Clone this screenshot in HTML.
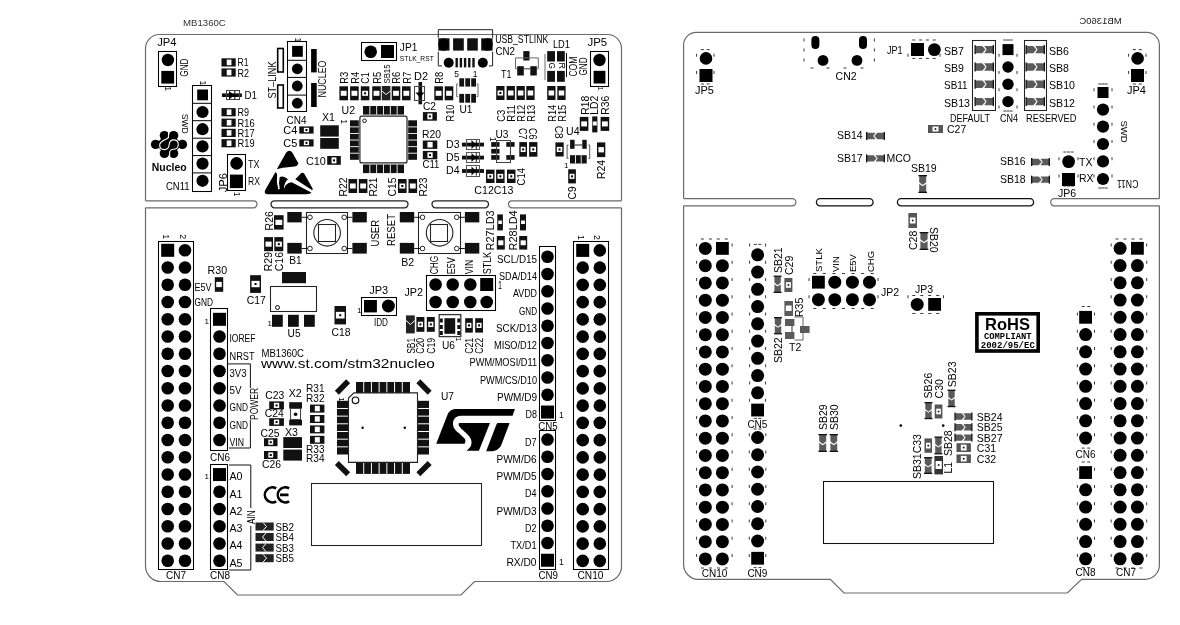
<!DOCTYPE html>
<html><head><meta charset="utf-8"><style>
html,body{margin:0;padding:0;background:#fff;width:1180px;height:625px;overflow:hidden}
svg{display:block;will-change:transform}
text{font-family:"Liberation Sans",sans-serif}
</style></head><body>
<svg width="1180" height="625" viewBox="0 0 1180 625">
<path d="M145.5,200.8 L145.5,48.5 A14,14 0 0 1 159.5,34.5 L607.5,34.5 A14,14 0 0 1 621.5,48.5 L621.5,200.8" fill="none" stroke="#6a6a6a" stroke-width="1.2" />
<path d="M145.5,200.8 L253.5,200.8 A3.5,3.5 0 0 1 253.5,207.8 L145.5,207.8" fill="none" stroke="#6a6a6a" stroke-width="1.2" />
<path d="M274.5,200.8 L404.5,200.8 A3.5,3.5 0 0 1 404.5,207.8 L274.5,207.8 A3.5,3.5 0 0 1 274.5,200.8" fill="none" stroke="#222" stroke-width="1.3" />
<path d="M435.5,200.8 L485,200.8 A3.5,3.5 0 0 1 485,207.8 L435.5,207.8 A3.5,3.5 0 0 1 435.5,200.8" fill="none" stroke="#222" stroke-width="1.3" />
<path d="M621.5,200.8 L512,200.8 A3.5,3.5 0 0 0 512,207.8 L621.5,207.8" fill="none" stroke="#6a6a6a" stroke-width="1.2" />
<path d="M145.5,207.8 L145.5,566 A15.5,15.5 0 0 0 161,581.5 L224,581.5 L237.5,595 L461,595 L474.5,581.5 L606.5,581.5 A15,15 0 0 0 621.5,566.5 L621.5,207.8" fill="none" stroke="#6a6a6a" stroke-width="1.2" />
<text transform="translate(183.1,25.7)" font-size="9.3" text-anchor="start" font-weight="normal" fill="#333" textLength="42.7" lengthAdjust="spacingAndGlyphs">MB1360C</text>
<rect x="158.5" y="241.5" width="35" height="328" fill="none" stroke="#000" stroke-width="1.05" rx="0"/>
<rect x="161.2" y="243.8" width="13" height="13" fill="#000" />
<circle cx="185" cy="250.3" r="6.3" fill="#000"/>
<circle cx="167.7" cy="267.55" r="6.3" fill="#000"/>
<circle cx="185" cy="267.55" r="6.3" fill="#000"/>
<circle cx="167.7" cy="284.8" r="6.3" fill="#000"/>
<circle cx="185" cy="284.8" r="6.3" fill="#000"/>
<circle cx="167.7" cy="302.05" r="6.3" fill="#000"/>
<circle cx="185" cy="302.05" r="6.3" fill="#000"/>
<circle cx="167.7" cy="319.3" r="6.3" fill="#000"/>
<circle cx="185" cy="319.3" r="6.3" fill="#000"/>
<circle cx="167.7" cy="336.55" r="6.3" fill="#000"/>
<circle cx="185" cy="336.55" r="6.3" fill="#000"/>
<circle cx="167.7" cy="353.8" r="6.3" fill="#000"/>
<circle cx="185" cy="353.8" r="6.3" fill="#000"/>
<circle cx="167.7" cy="371.05" r="6.3" fill="#000"/>
<circle cx="185" cy="371.05" r="6.3" fill="#000"/>
<circle cx="167.7" cy="388.3" r="6.3" fill="#000"/>
<circle cx="185" cy="388.3" r="6.3" fill="#000"/>
<circle cx="167.7" cy="405.55" r="6.3" fill="#000"/>
<circle cx="185" cy="405.55" r="6.3" fill="#000"/>
<circle cx="167.7" cy="422.8" r="6.3" fill="#000"/>
<circle cx="185" cy="422.8" r="6.3" fill="#000"/>
<circle cx="167.7" cy="440.05" r="6.3" fill="#000"/>
<circle cx="185" cy="440.05" r="6.3" fill="#000"/>
<circle cx="167.7" cy="457.3" r="6.3" fill="#000"/>
<circle cx="185" cy="457.3" r="6.3" fill="#000"/>
<circle cx="167.7" cy="474.55" r="6.3" fill="#000"/>
<circle cx="185" cy="474.55" r="6.3" fill="#000"/>
<circle cx="167.7" cy="491.8" r="6.3" fill="#000"/>
<circle cx="185" cy="491.8" r="6.3" fill="#000"/>
<circle cx="167.7" cy="509.05" r="6.3" fill="#000"/>
<circle cx="185" cy="509.05" r="6.3" fill="#000"/>
<circle cx="167.7" cy="526.3" r="6.3" fill="#000"/>
<circle cx="185" cy="526.3" r="6.3" fill="#000"/>
<circle cx="167.7" cy="543.55" r="6.3" fill="#000"/>
<circle cx="185" cy="543.55" r="6.3" fill="#000"/>
<circle cx="167.7" cy="560.8" r="6.3" fill="#000"/>
<circle cx="185" cy="560.8" r="6.3" fill="#000"/>
<text transform="translate(166,578.8)" font-size="10" text-anchor="start" font-weight="normal" fill="#000" textLength="20" lengthAdjust="spacingAndGlyphs">CN7</text>
<text transform="translate(163,234.3) rotate(90)" font-size="8.8" text-anchor="start" font-weight="normal" fill="#000">1</text>
<text transform="translate(180,234.3) rotate(90)" font-size="8.8" text-anchor="start" font-weight="normal" fill="#000">2</text>
<rect x="573.5" y="241.5" width="35" height="328" fill="none" stroke="#000" stroke-width="1.05" rx="0"/>
<rect x="576.2" y="243.9" width="13" height="13" fill="#000" />
<circle cx="599.8" cy="250.4" r="6.3" fill="#000"/>
<circle cx="582.7" cy="267.65" r="6.3" fill="#000"/>
<circle cx="599.8" cy="267.65" r="6.3" fill="#000"/>
<circle cx="582.7" cy="284.9" r="6.3" fill="#000"/>
<circle cx="599.8" cy="284.9" r="6.3" fill="#000"/>
<circle cx="582.7" cy="302.15" r="6.3" fill="#000"/>
<circle cx="599.8" cy="302.15" r="6.3" fill="#000"/>
<circle cx="582.7" cy="319.4" r="6.3" fill="#000"/>
<circle cx="599.8" cy="319.4" r="6.3" fill="#000"/>
<circle cx="582.7" cy="336.65" r="6.3" fill="#000"/>
<circle cx="599.8" cy="336.65" r="6.3" fill="#000"/>
<circle cx="582.7" cy="353.9" r="6.3" fill="#000"/>
<circle cx="599.8" cy="353.9" r="6.3" fill="#000"/>
<circle cx="582.7" cy="371.15" r="6.3" fill="#000"/>
<circle cx="599.8" cy="371.15" r="6.3" fill="#000"/>
<circle cx="582.7" cy="388.4" r="6.3" fill="#000"/>
<circle cx="599.8" cy="388.4" r="6.3" fill="#000"/>
<circle cx="582.7" cy="405.65" r="6.3" fill="#000"/>
<circle cx="599.8" cy="405.65" r="6.3" fill="#000"/>
<circle cx="582.7" cy="422.9" r="6.3" fill="#000"/>
<circle cx="599.8" cy="422.9" r="6.3" fill="#000"/>
<circle cx="582.7" cy="440.15" r="6.3" fill="#000"/>
<circle cx="599.8" cy="440.15" r="6.3" fill="#000"/>
<circle cx="582.7" cy="457.4" r="6.3" fill="#000"/>
<circle cx="599.8" cy="457.4" r="6.3" fill="#000"/>
<circle cx="582.7" cy="474.65" r="6.3" fill="#000"/>
<circle cx="599.8" cy="474.65" r="6.3" fill="#000"/>
<circle cx="582.7" cy="491.9" r="6.3" fill="#000"/>
<circle cx="599.8" cy="491.9" r="6.3" fill="#000"/>
<circle cx="582.7" cy="509.15" r="6.3" fill="#000"/>
<circle cx="599.8" cy="509.15" r="6.3" fill="#000"/>
<circle cx="582.7" cy="526.4" r="6.3" fill="#000"/>
<circle cx="599.8" cy="526.4" r="6.3" fill="#000"/>
<circle cx="582.7" cy="543.65" r="6.3" fill="#000"/>
<circle cx="599.8" cy="543.65" r="6.3" fill="#000"/>
<circle cx="582.7" cy="560.9" r="6.3" fill="#000"/>
<circle cx="599.8" cy="560.9" r="6.3" fill="#000"/>
<text transform="translate(577.5,579)" font-size="10" text-anchor="start" font-weight="normal" fill="#000" textLength="26" lengthAdjust="spacingAndGlyphs">CN10</text>
<text transform="translate(577.5,235) rotate(90)" font-size="8.8" text-anchor="start" font-weight="normal" fill="#000">1</text>
<text transform="translate(594.4,235) rotate(90)" font-size="8.8" text-anchor="start" font-weight="normal" fill="#000">2</text>
<rect x="210.5" y="308.5" width="17" height="142" fill="none" stroke="#000" stroke-width="1.05" rx="0"/>
<rect x="213" y="312.8" width="13" height="13" fill="#000" />
<circle cx="219.5" cy="336.55" r="6.3" fill="#000"/>
<circle cx="219.5" cy="353.8" r="6.3" fill="#000"/>
<circle cx="219.5" cy="371.05" r="6.3" fill="#000"/>
<circle cx="219.5" cy="388.3" r="6.3" fill="#000"/>
<circle cx="219.5" cy="405.55" r="6.3" fill="#000"/>
<circle cx="219.5" cy="422.8" r="6.3" fill="#000"/>
<circle cx="219.5" cy="440.05" r="6.3" fill="#000"/>
<text transform="translate(210,460.8)" font-size="10" text-anchor="start" font-weight="normal" fill="#000" textLength="20" lengthAdjust="spacingAndGlyphs">CN6</text>
<text transform="translate(204.5,323.5)" font-size="8" text-anchor="start" font-weight="normal" fill="#000">1</text>
<text transform="translate(229.5,342.35)" font-size="10" text-anchor="start" font-weight="normal" fill="#000" textLength="26" lengthAdjust="spacingAndGlyphs">IOREF</text>
<text transform="translate(229.5,359.6)" font-size="10" text-anchor="start" font-weight="normal" fill="#000" textLength="25" lengthAdjust="spacingAndGlyphs">NRST</text>
<text transform="translate(229.5,376.85)" font-size="10" text-anchor="start" font-weight="normal" fill="#000" textLength="17" lengthAdjust="spacingAndGlyphs">3V3</text>
<text transform="translate(229.5,394.1)" font-size="10" text-anchor="start" font-weight="normal" fill="#000" textLength="12" lengthAdjust="spacingAndGlyphs">5V</text>
<text transform="translate(229.5,411.35)" font-size="10" text-anchor="start" font-weight="normal" fill="#000" textLength="18.5" lengthAdjust="spacingAndGlyphs">GND</text>
<text transform="translate(229.5,428.6)" font-size="10" text-anchor="start" font-weight="normal" fill="#000" textLength="18.5" lengthAdjust="spacingAndGlyphs">GND</text>
<text transform="translate(229.5,445.85)" font-size="10" text-anchor="start" font-weight="normal" fill="#000" textLength="14.5" lengthAdjust="spacingAndGlyphs">VIN</text>
<path d="M228,363.9 L250.4,363.9 L250.4,448 L229,448" fill="none" stroke="#111" stroke-width="1" />
<rect x="248" y="388" width="6" height="32" fill="#fff" />
<text transform="translate(258.3,420) rotate(-90)" font-size="11" text-anchor="start" font-weight="normal" fill="#000" textLength="32.2" lengthAdjust="spacingAndGlyphs">POWER</text>
<rect x="210.5" y="464.5" width="17" height="105" fill="none" stroke="#000" stroke-width="1.05" rx="0"/>
<rect x="213" y="468.05" width="13" height="13" fill="#000" />
<circle cx="219.5" cy="491.8" r="6.3" fill="#000"/>
<circle cx="219.5" cy="509.05" r="6.3" fill="#000"/>
<circle cx="219.5" cy="526.3" r="6.3" fill="#000"/>
<circle cx="219.5" cy="543.55" r="6.3" fill="#000"/>
<circle cx="219.5" cy="560.8" r="6.3" fill="#000"/>
<text transform="translate(210,578.8)" font-size="10" text-anchor="start" font-weight="normal" fill="#000" textLength="20" lengthAdjust="spacingAndGlyphs">CN8</text>
<text transform="translate(204.5,478.5)" font-size="8" text-anchor="start" font-weight="normal" fill="#000">1</text>
<text transform="translate(229.5,480.35)" font-size="10" text-anchor="start" font-weight="normal" fill="#000" textLength="13" lengthAdjust="spacingAndGlyphs">A0</text>
<text transform="translate(229.5,497.6)" font-size="10" text-anchor="start" font-weight="normal" fill="#000" textLength="13" lengthAdjust="spacingAndGlyphs">A1</text>
<text transform="translate(229.5,514.85)" font-size="10" text-anchor="start" font-weight="normal" fill="#000" textLength="13" lengthAdjust="spacingAndGlyphs">A2</text>
<text transform="translate(229.5,532.1)" font-size="10" text-anchor="start" font-weight="normal" fill="#000" textLength="13" lengthAdjust="spacingAndGlyphs">A3</text>
<text transform="translate(229.5,549.35)" font-size="10" text-anchor="start" font-weight="normal" fill="#000" textLength="13" lengthAdjust="spacingAndGlyphs">A4</text>
<text transform="translate(229.5,566.6)" font-size="10" text-anchor="start" font-weight="normal" fill="#000" textLength="13" lengthAdjust="spacingAndGlyphs">A5</text>
<path d="M229,465 L250.8,465 L250.8,570 L229,570" fill="none" stroke="#111" stroke-width="1" />
<rect x="248" y="508" width="6" height="18" fill="#fff" />
<text transform="translate(254.5,524) rotate(-90)" font-size="10.5" text-anchor="start" font-weight="normal" fill="#000" textLength="13.5" lengthAdjust="spacingAndGlyphs">AIN</text>
<text transform="translate(194.5,290.5)" font-size="10" text-anchor="start" font-weight="normal" fill="#000" textLength="17" lengthAdjust="spacingAndGlyphs">E5V</text>
<text transform="translate(194.5,305.6)" font-size="10" text-anchor="start" font-weight="normal" fill="#000" textLength="18.5" lengthAdjust="spacingAndGlyphs">GND</text>
<rect x="539.5" y="246.5" width="16" height="174" fill="none" stroke="#000" stroke-width="1.05" rx="0"/>
<circle cx="547.5" cy="256.8" r="6.3" fill="#000"/>
<text transform="translate(537,262.8)" font-size="10" text-anchor="end" font-weight="normal" fill="#000" textLength="40" lengthAdjust="spacingAndGlyphs">SCL/D15</text>
<circle cx="547.5" cy="274.05" r="6.3" fill="#000"/>
<text transform="translate(537,280.05)" font-size="10" text-anchor="end" font-weight="normal" fill="#000" textLength="38" lengthAdjust="spacingAndGlyphs">SDA/D14</text>
<circle cx="547.5" cy="291.3" r="6.3" fill="#000"/>
<text transform="translate(537,297.3)" font-size="10" text-anchor="end" font-weight="normal" fill="#000" textLength="24" lengthAdjust="spacingAndGlyphs">AVDD</text>
<circle cx="547.5" cy="308.55" r="6.3" fill="#000"/>
<text transform="translate(537,314.55)" font-size="10" text-anchor="end" font-weight="normal" fill="#000" textLength="18" lengthAdjust="spacingAndGlyphs">GND</text>
<circle cx="547.5" cy="325.8" r="6.3" fill="#000"/>
<text transform="translate(537,331.8)" font-size="10" text-anchor="end" font-weight="normal" fill="#000" textLength="41" lengthAdjust="spacingAndGlyphs">SCK/D13</text>
<circle cx="547.5" cy="343.05" r="6.3" fill="#000"/>
<text transform="translate(537,349.05)" font-size="10" text-anchor="end" font-weight="normal" fill="#000" textLength="43" lengthAdjust="spacingAndGlyphs">MISO/D12</text>
<circle cx="547.5" cy="360.3" r="6.3" fill="#000"/>
<text transform="translate(537,366.3)" font-size="10" text-anchor="end" font-weight="normal" fill="#000" textLength="67.4" lengthAdjust="spacingAndGlyphs">PWM/MOSI/D11</text>
<circle cx="547.5" cy="377.55" r="6.3" fill="#000"/>
<text transform="translate(537,383.55)" font-size="10" text-anchor="end" font-weight="normal" fill="#000" textLength="57" lengthAdjust="spacingAndGlyphs">PWM/CS/D10</text>
<circle cx="547.5" cy="394.8" r="6.3" fill="#000"/>
<text transform="translate(537,400.8)" font-size="10" text-anchor="end" font-weight="normal" fill="#000" textLength="40" lengthAdjust="spacingAndGlyphs">PWM/D9</text>
<rect x="541" y="405.55" width="13" height="13" fill="#000" />
<text transform="translate(537,418.05)" font-size="10" text-anchor="end" font-weight="normal" fill="#000" textLength="11.5" lengthAdjust="spacingAndGlyphs">D8</text>
<text transform="translate(559,418)" font-size="8.5" text-anchor="start" font-weight="normal" fill="#000">1</text>
<text transform="translate(538.3,430)" font-size="10" text-anchor="start" font-weight="normal" fill="#000" textLength="19.5" lengthAdjust="spacingAndGlyphs">CN5</text>
<rect x="539.5" y="430.5" width="16" height="139" fill="none" stroke="#000" stroke-width="1.05" rx="0"/>
<circle cx="547.5" cy="439.5" r="6.3" fill="#000"/>
<text transform="translate(536.5,445.5)" font-size="10" text-anchor="end" font-weight="normal" fill="#000" textLength="11.5" lengthAdjust="spacingAndGlyphs">D7</text>
<circle cx="547.5" cy="456.75" r="6.3" fill="#000"/>
<text transform="translate(536.5,462.75)" font-size="10" text-anchor="end" font-weight="normal" fill="#000" textLength="40" lengthAdjust="spacingAndGlyphs">PWM/D6</text>
<circle cx="547.5" cy="474" r="6.3" fill="#000"/>
<text transform="translate(536.5,480)" font-size="10" text-anchor="end" font-weight="normal" fill="#000" textLength="40" lengthAdjust="spacingAndGlyphs">PWM/D5</text>
<circle cx="547.5" cy="491.25" r="6.3" fill="#000"/>
<text transform="translate(536.5,497.25)" font-size="10" text-anchor="end" font-weight="normal" fill="#000" textLength="11.5" lengthAdjust="spacingAndGlyphs">D4</text>
<circle cx="547.5" cy="508.5" r="6.3" fill="#000"/>
<text transform="translate(536.5,514.5)" font-size="10" text-anchor="end" font-weight="normal" fill="#000" textLength="40" lengthAdjust="spacingAndGlyphs">PWM/D3</text>
<circle cx="547.5" cy="525.75" r="6.3" fill="#000"/>
<text transform="translate(536.5,531.75)" font-size="10" text-anchor="end" font-weight="normal" fill="#000" textLength="11.5" lengthAdjust="spacingAndGlyphs">D2</text>
<circle cx="547.5" cy="543" r="6.3" fill="#000"/>
<text transform="translate(536.5,549)" font-size="10" text-anchor="end" font-weight="normal" fill="#000" textLength="26" lengthAdjust="spacingAndGlyphs">TX/D1</text>
<rect x="541" y="553.75" width="13" height="13" fill="#000" />
<text transform="translate(536.5,566.25)" font-size="10" text-anchor="end" font-weight="normal" fill="#000" textLength="30" lengthAdjust="spacingAndGlyphs">RX/D0</text>
<text transform="translate(559,564.5)" font-size="8.5" text-anchor="start" font-weight="normal" fill="#000">1</text>
<text transform="translate(538.5,579)" font-size="10" text-anchor="start" font-weight="normal" fill="#000" textLength="19.5" lengthAdjust="spacingAndGlyphs">CN9</text>
<rect x="426.5" y="275.5" width="69" height="35" fill="none" stroke="#000" stroke-width="1.05" rx="0"/>
<circle cx="435.6" cy="284.5" r="6.3" fill="#000"/>
<circle cx="452.7" cy="284.5" r="6.3" fill="#000"/>
<circle cx="470.3" cy="284.5" r="6.3" fill="#000"/>
<rect x="480.2" y="278" width="13" height="13" fill="#000" />
<circle cx="435.6" cy="302" r="6.3" fill="#000"/>
<circle cx="452.7" cy="302" r="6.3" fill="#000"/>
<circle cx="470.3" cy="302" r="6.3" fill="#000"/>
<circle cx="486.7" cy="302" r="6.3" fill="#000"/>
<text transform="translate(498,288.8)" font-size="11" text-anchor="start" font-weight="normal" fill="#000" textLength="4" lengthAdjust="spacingAndGlyphs">1</text>
<text transform="translate(404.5,295.5)" font-size="10.5" text-anchor="start" font-weight="normal" fill="#000" textLength="18.5" lengthAdjust="spacingAndGlyphs">JP2</text>
<text transform="translate(438,274.3) rotate(-90)" font-size="10" text-anchor="start" font-weight="normal" fill="#000" textLength="18.5" lengthAdjust="spacingAndGlyphs">CHG</text>
<text transform="translate(455,274.3) rotate(-90)" font-size="10" text-anchor="start" font-weight="normal" fill="#000" textLength="17" lengthAdjust="spacingAndGlyphs">E5V</text>
<text transform="translate(472.8,274.3) rotate(-90)" font-size="10" text-anchor="start" font-weight="normal" fill="#000" textLength="14.5" lengthAdjust="spacingAndGlyphs">VIN</text>
<text transform="translate(491,274.3) rotate(-90)" font-size="10" text-anchor="start" font-weight="normal" fill="#000" textLength="22.4" lengthAdjust="spacingAndGlyphs">STLK</text>
<rect x="497.3" y="214.4" width="5.6" height="16" fill="#111" />
<rect x="498.3" y="220.5" width="3.6" height="3.5" fill="#fff" />
<rect x="496.8" y="236" width="8" height="13.6" fill="#111" />
<rect x="498.2" y="240.35" width="5.2" height="4.9" fill="#fff" />
<rect x="520" y="214.4" width="6" height="16" fill="#111" />
<rect x="521" y="220.5" width="4" height="3.5" fill="#fff" />
<rect x="519.2" y="236" width="8" height="13.6" fill="#111" />
<rect x="520.6" y="240.35" width="5.2" height="4.9" fill="#fff" />
<text transform="translate(493.6,250.4) rotate(-90)" font-size="10" text-anchor="start" font-weight="normal" fill="#000" textLength="40" lengthAdjust="spacingAndGlyphs">R27LD3</text>
<text transform="translate(516.8,250.4) rotate(-90)" font-size="10" text-anchor="start" font-weight="normal" fill="#000" textLength="40" lengthAdjust="spacingAndGlyphs">R28LD4</text>
<rect x="158.5" y="51.5" width="18" height="35" fill="none" stroke="#000" stroke-width="1.05" rx="0"/>
<circle cx="167.9" cy="60" r="6.2" fill="#000"/>
<rect x="161.3" y="70.9" width="12.8" height="12.7" fill="#000" />
<text transform="translate(157.2,45.8)" font-size="10" text-anchor="start" font-weight="normal" fill="#000" textLength="19.4" lengthAdjust="spacingAndGlyphs">JP4</text>
<text transform="translate(188.3,76.7) rotate(-90)" font-size="10" text-anchor="start" font-weight="normal" fill="#000" textLength="18.2" lengthAdjust="spacingAndGlyphs">GND</text>
<text transform="translate(164.5,86.3) rotate(90)" font-size="8.5" text-anchor="start" font-weight="normal" fill="#000">1</text>
<rect x="590.5" y="51.5" width="18" height="35" fill="none" stroke="#000" stroke-width="1.05" rx="0"/>
<circle cx="599.5" cy="60" r="6.2" fill="#000"/>
<rect x="593.6" y="70.8" width="11.8" height="12.7" fill="#000" />
<text transform="translate(587.5,46)" font-size="10" text-anchor="start" font-weight="normal" fill="#000" textLength="19.7" lengthAdjust="spacingAndGlyphs">JP5</text>
<text transform="translate(586.5,75.5) rotate(-90)" font-size="10" text-anchor="start" font-weight="normal" fill="#000" textLength="18.2" lengthAdjust="spacingAndGlyphs">GND</text>
<text transform="translate(597.5,86.5) rotate(90)" font-size="7.5" text-anchor="start" font-weight="normal" fill="#000">1</text>
<rect x="192.5" y="85.5" width="19" height="106" fill="none" stroke="#000" stroke-width="1.05" rx="0"/>
<rect x="197.2" y="89.5" width="10.8" height="10.8" fill="#000" />
<circle cx="202.5" cy="112" r="6.1" fill="#000"/>
<circle cx="202.5" cy="129.2" r="6.1" fill="#000"/>
<circle cx="202.5" cy="146.4" r="6.1" fill="#000"/>
<circle cx="202.5" cy="163.6" r="6.1" fill="#000"/>
<circle cx="202.5" cy="180.8" r="6.1" fill="#000"/>
<line x1="192.8" y1="103.3" x2="211.3" y2="103.3" stroke="#000" stroke-width="1"/>
<line x1="192.8" y1="120.7" x2="211.3" y2="120.7" stroke="#000" stroke-width="1"/>
<line x1="192.8" y1="138.2" x2="211.3" y2="138.2" stroke="#000" stroke-width="1"/>
<line x1="192.8" y1="155.6" x2="211.3" y2="155.6" stroke="#000" stroke-width="1"/>
<line x1="192.8" y1="172.9" x2="211.3" y2="172.9" stroke="#000" stroke-width="1"/>
<text transform="translate(166,189.7)" font-size="10" text-anchor="start" font-weight="normal" fill="#000" textLength="23.5" lengthAdjust="spacingAndGlyphs">CN11</text>
<text transform="translate(182,113.8) rotate(90)" font-size="9.5" text-anchor="start" font-weight="normal" fill="#000" textLength="20" lengthAdjust="spacingAndGlyphs">SWD</text>
<text transform="translate(199.8,80.6) rotate(90)" font-size="8.5" text-anchor="start" font-weight="normal" fill="#000">1</text>
<circle cx="164.4" cy="135.6" r="4.7" fill="#000"/>
<circle cx="173.6" cy="135.6" r="4.7" fill="#000"/>
<circle cx="155.6" cy="144.4" r="4.7" fill="#000"/>
<circle cx="182.4" cy="144.4" r="4.7" fill="#000"/>
<circle cx="164.4" cy="153.4" r="4.7" fill="#000"/>
<circle cx="173.6" cy="153.4" r="4.7" fill="#000"/>
<path d="M164.4,135.6 L173.6,135.6 L182.4,144.4 L173.6,153.4 L164.4,153.4 L155.6,144.4 Z" fill="#000" stroke="none" stroke-width="1" />
<path d="M168.7,131 L168.4,137.6 C166.5,139.8 161.5,139.6 159.8,144 C159,147.6 161.5,149.6 164.3,149.6 C167,149.6 168.9,147.6 169.1,145 C169.3,141.6 171.2,139.9 173.6,139.9 C176.3,139.9 178.3,141.8 178.3,144.5 C178.3,147.4 176.1,149.3 173.6,149.3 C171.5,149.3 169.6,150.6 169.6,152.4 L169.6,158" fill="none" stroke="#fff" stroke-width="1.1" />
<text transform="translate(151.8,171.4)" font-size="11.8" text-anchor="start" font-weight="bold" fill="#000" textLength="34.8" lengthAdjust="spacingAndGlyphs">Nucleo</text>
<rect x="227.5" y="154.5" width="18" height="36" fill="none" stroke="#000" stroke-width="1.05" rx="0"/>
<circle cx="236.6" cy="163.4" r="6.3" fill="#000"/>
<rect x="229.9" y="174.6" width="13" height="13.5" fill="#000" />
<text transform="translate(247.9,167.9)" font-size="10" text-anchor="start" font-weight="normal" fill="#000" textLength="11.5" lengthAdjust="spacingAndGlyphs">TX</text>
<text transform="translate(247.9,184.7)" font-size="10" text-anchor="start" font-weight="normal" fill="#000" textLength="12" lengthAdjust="spacingAndGlyphs">RX</text>
<text transform="translate(226.6,192.3) rotate(-90)" font-size="10" text-anchor="start" font-weight="normal" fill="#000" textLength="19.3" lengthAdjust="spacingAndGlyphs">JP6</text>
<text transform="translate(234,191.8) rotate(90)" font-size="8.5" text-anchor="start" font-weight="normal" fill="#000">1</text>
<rect x="221.5" y="58.3" width="14.2" height="8.2" fill="#111" />
<rect x="226.75" y="59.6" width="4.69" height="5.6" fill="#fff" />
<text transform="translate(237.6,66.4)" font-size="10.5" text-anchor="start" font-weight="normal" fill="#000" textLength="11" lengthAdjust="spacingAndGlyphs">R1</text>
<rect x="221.5" y="68.4" width="14.2" height="8.2" fill="#111" />
<rect x="226.75" y="69.7" width="4.69" height="5.6" fill="#fff" />
<text transform="translate(237.6,76.5)" font-size="10.5" text-anchor="start" font-weight="normal" fill="#000" textLength="11.5" lengthAdjust="spacingAndGlyphs">R2</text>
<rect x="221.5" y="108.1" width="14.2" height="8.2" fill="#111" />
<rect x="226.75" y="109.4" width="4.69" height="5.6" fill="#fff" />
<text transform="translate(237.6,116.2)" font-size="10.5" text-anchor="start" font-weight="normal" fill="#000" textLength="11.5" lengthAdjust="spacingAndGlyphs">R9</text>
<rect x="221.5" y="118.6" width="14.2" height="8.2" fill="#111" />
<rect x="226.75" y="119.9" width="4.69" height="5.6" fill="#fff" />
<text transform="translate(237.6,126.7)" font-size="10.5" text-anchor="start" font-weight="normal" fill="#000" textLength="17" lengthAdjust="spacingAndGlyphs">R16</text>
<rect x="221.5" y="128.8" width="14.2" height="8.2" fill="#111" />
<rect x="226.75" y="130.1" width="4.69" height="5.6" fill="#fff" />
<text transform="translate(237.6,136.9)" font-size="10.5" text-anchor="start" font-weight="normal" fill="#000" textLength="17" lengthAdjust="spacingAndGlyphs">R17</text>
<rect x="221.5" y="139.1" width="14.2" height="8.2" fill="#111" />
<rect x="226.75" y="140.4" width="4.69" height="5.6" fill="#fff" />
<text transform="translate(237.6,147.2)" font-size="10.5" text-anchor="start" font-weight="normal" fill="#000" textLength="17" lengthAdjust="spacingAndGlyphs">R19</text>
<rect x="221.9" y="93.4" width="20" height="3.6" fill="#111" />
<rect x="226.5" y="90.5" width="13" height="9" fill="none" stroke="#444" stroke-width="1.05" rx="0"/>
<path d="M229,91 L234.5,95.2 L229,99.4 Z" fill="#000" stroke="none" stroke-width="1" />
<line x1="234.8" y1="91" x2="234.8" y2="99.4" stroke="#000" stroke-width="1"/>
<text transform="translate(244.4,98.8)" font-size="10.5" text-anchor="start" font-weight="normal" fill="#000" textLength="12.5" lengthAdjust="spacingAndGlyphs">D1</text>
<g transform="translate(260,140) scale(0.096)"><path d="M175,305 L270,135 Q305,90 340,135 L400,245 Q392,272 360,276 L240,290 Q200,296 175,305 Z" fill="#000"/><path d="M52,525 L160,335 Q178,338 178,360 Q168,430 190,512 L206,512 Q192,440 205,388 Q225,370 260,388 L292,410 Q252,440 248,512 Q262,450 330,440 L535,548 Q525,566 480,566 L80,566 Q40,560 52,525 Z" fill="#000"/><path d="M368,410 L430,345 Q445,335 460,350 L552,512 L540,522 Z" fill="#000"/></g>
<rect x="287.5" y="41.5" width="19" height="70" fill="none" stroke="#000" stroke-width="1.05" rx="0"/>
<line x1="287.6" y1="60.3" x2="306.7" y2="60.3" stroke="#000" stroke-width="1"/>
<line x1="287.6" y1="77.4" x2="306.7" y2="77.4" stroke="#000" stroke-width="1"/>
<line x1="287.6" y1="95.1" x2="306.7" y2="95.1" stroke="#000" stroke-width="1"/>
<rect x="292.1" y="45.9" width="10.7" height="10.9" fill="#000" />
<circle cx="297.3" cy="68.8" r="5.4" fill="#000"/>
<circle cx="297.3" cy="86" r="5.4" fill="#000"/>
<circle cx="297.3" cy="103.2" r="5.4" fill="#000"/>
<rect x="277.7" y="48.5" width="5.6" height="23.5" fill="none" stroke="#000" stroke-width="1.6" rx="0"/>
<rect x="277.7" y="85" width="5.6" height="23" fill="none" stroke="#000" stroke-width="1.6" rx="0"/>
<rect x="311.1" y="49" width="5.6" height="23.4" fill="#000" />
<rect x="311.1" y="83" width="5.6" height="24" fill="#000" />
<text transform="translate(275.5,98.5) rotate(-90)" font-size="10" text-anchor="start" font-weight="normal" fill="#000" textLength="37" lengthAdjust="spacingAndGlyphs">ST–LINK</text>
<text transform="translate(325.5,97.5) rotate(-90)" font-size="10" text-anchor="start" font-weight="normal" fill="#000" textLength="37" lengthAdjust="spacingAndGlyphs">NUCLEO</text>
<text transform="translate(286.5,123.5)" font-size="10.5" text-anchor="start" font-weight="normal" fill="#000" textLength="20" lengthAdjust="spacingAndGlyphs">CN4</text>
<text transform="translate(294.7,37.6) rotate(90)" font-size="8.5" text-anchor="start" font-weight="normal" fill="#000">1</text>
<rect x="361.5" y="42.5" width="35" height="18" fill="none" stroke="#000" stroke-width="1.05" rx="0"/>
<circle cx="370.7" cy="51.8" r="6.3" fill="#000"/>
<rect x="381" y="45" width="13" height="13" fill="#000" />
<text transform="translate(399.8,51.3)" font-size="10.8" text-anchor="start" font-weight="normal" fill="#000" textLength="17.5" lengthAdjust="spacingAndGlyphs">JP1</text>
<text transform="translate(399.8,60.7)" font-size="7.8" text-anchor="start" font-weight="normal" fill="#000" textLength="34" lengthAdjust="spacingAndGlyphs">STLK_RST</text>
<rect x="339.4" y="86.3" width="8.6" height="14" fill="#111" />
<rect x="340.8" y="90.78" width="5.8" height="5.04" fill="#fff" />
<rect x="350.1" y="86.3" width="8.6" height="14" fill="#111" />
<rect x="351.5" y="90.78" width="5.8" height="5.04" fill="#fff" />
<rect x="360.8" y="86.3" width="8.6" height="14" fill="#111" />
<rect x="362.2" y="90.78" width="5.8" height="5.04" fill="#fff" />
<rect x="364.1" y="92.3" width="2" height="2" fill="#000" />
<rect x="372.2" y="86.3" width="8.6" height="14" fill="#111" />
<rect x="373.6" y="90.78" width="5.8" height="5.04" fill="#fff" />
<rect x="391.7" y="86.3" width="8.6" height="14" fill="#111" />
<rect x="393.1" y="90.78" width="5.8" height="5.04" fill="#fff" />
<rect x="402" y="86.3" width="8.6" height="14" fill="#111" />
<rect x="403.4" y="90.78" width="5.8" height="5.04" fill="#fff" />
<rect x="434.3" y="86.3" width="8.6" height="14" fill="#111" />
<rect x="435.7" y="90.78" width="5.8" height="5.04" fill="#fff" />
<rect x="444.7" y="86.3" width="8.6" height="14" fill="#111" />
<rect x="446.1" y="90.78" width="5.8" height="5.04" fill="#fff" />
<text transform="translate(348,83.7) rotate(-90)" font-size="11" text-anchor="start" font-weight="normal" fill="#000" textLength="12" lengthAdjust="spacingAndGlyphs">R3</text>
<text transform="translate(358.7,83.7) rotate(-90)" font-size="11" text-anchor="start" font-weight="normal" fill="#000" textLength="12" lengthAdjust="spacingAndGlyphs">R4</text>
<text transform="translate(369.4,83.7) rotate(-90)" font-size="11" text-anchor="start" font-weight="normal" fill="#000" textLength="11.5" lengthAdjust="spacingAndGlyphs">C1</text>
<text transform="translate(380.8,83.7) rotate(-90)" font-size="11" text-anchor="start" font-weight="normal" fill="#000" textLength="12" lengthAdjust="spacingAndGlyphs">R5</text>
<text transform="translate(400.3,83.7) rotate(-90)" font-size="11" text-anchor="start" font-weight="normal" fill="#000" textLength="12" lengthAdjust="spacingAndGlyphs">R6</text>
<text transform="translate(410.6,83.7) rotate(-90)" font-size="11" text-anchor="start" font-weight="normal" fill="#000" textLength="12" lengthAdjust="spacingAndGlyphs">R7</text>
<text transform="translate(443,83.7) rotate(-90)" font-size="11" text-anchor="start" font-weight="normal" fill="#000" textLength="12" lengthAdjust="spacingAndGlyphs">R8</text>
<text transform="translate(453.5,121.5) rotate(-90)" font-size="11" text-anchor="start" font-weight="normal" fill="#000" textLength="17" lengthAdjust="spacingAndGlyphs">R10</text>
<rect x="381.8" y="86" width="8.6" height="14.3" fill="#222" />
<path d="M381.8,91 L386.1,94.5 L390.4,91" fill="none" stroke="#fff" stroke-width="1" />
<text transform="translate(389.8,83.5) rotate(-90)" font-size="8.5" text-anchor="start" font-weight="normal" fill="#000" textLength="19" lengthAdjust="spacingAndGlyphs">SB15</text>
<rect x="418.5" y="82" width="3.6" height="22.3" fill="#111" />
<rect x="414.5" y="86.5" width="10" height="14" fill="none" stroke="#444" stroke-width="1.05" rx="0"/>
<path d="M415.5,92.5 L424.5,92.5 L420,97.5 Z" fill="#000" stroke="none" stroke-width="1" />
<text transform="translate(414,80)" font-size="11.5" text-anchor="start" font-weight="normal" fill="#000" textLength="14" lengthAdjust="spacingAndGlyphs">D2</text>
<rect x="422.9" y="112.1" width="14" height="8.6" fill="#111" />
<rect x="427.38" y="113.5" width="5.04" height="5.8" fill="#fff" />
<rect x="428.9" y="115.4" width="2" height="2" fill="#000" />
<text transform="translate(423,110)" font-size="11" text-anchor="start" font-weight="normal" fill="#000" textLength="13" lengthAdjust="spacingAndGlyphs">C2</text>
<path d="M438.3,37.8 L438.3,29.7 L492.6,29.7 L492.6,37.8" fill="none" stroke="#222" stroke-width="1" />
<path d="M442,65.9 L438.3,65.9 L438.3,51.8" fill="none" stroke="#222" stroke-width="1" />
<path d="M488.9,65.9 L492.6,65.9 L492.6,51.8" fill="none" stroke="#222" stroke-width="1" />
<rect x="438.3" y="38.3" width="11.2" height="12.3" fill="#111" />
<rect x="453.1" y="38.3" width="10.7" height="12.3" fill="#111" />
<rect x="467.2" y="38.3" width="10.6" height="12.3" fill="#111" />
<rect x="481.2" y="38.3" width="11.4" height="12.3" fill="#111" />
<ellipse cx="443.5" cy="44.5" rx="5.2" ry="6.3" fill="#000"/>
<ellipse cx="487.4" cy="44.5" rx="5.2" ry="6.3" fill="#000"/>
<circle cx="448.7" cy="62.7" r="5" fill="#000"/>
<circle cx="482.8" cy="62.7" r="5" fill="#000"/>
<rect x="455.5" y="58" width="2.4" height="9.4" fill="#111" />
<rect x="459.7" y="58" width="2.4" height="9.4" fill="#111" />
<rect x="463.9" y="58" width="2.4" height="9.4" fill="#111" />
<rect x="468.1" y="58" width="2.4" height="9.4" fill="#111" />
<rect x="472.3" y="58" width="2.4" height="9.4" fill="#111" />
<text transform="translate(456.5,77)" font-size="8.5" text-anchor="middle" font-weight="normal" fill="#000">5</text>
<text transform="translate(475,77)" font-size="8.5" text-anchor="middle" font-weight="normal" fill="#000">1</text>
<text transform="translate(495.2,43.3)" font-size="10" text-anchor="start" font-weight="normal" fill="#000" textLength="53" lengthAdjust="spacingAndGlyphs">USB_STLINK</text>
<text transform="translate(495.5,54.8)" font-size="10.5" text-anchor="start" font-weight="normal" fill="#000" textLength="19.5" lengthAdjust="spacingAndGlyphs">CN2</text>
<rect x="459.3" y="78.3" width="4.8" height="8.3" fill="#111" />
<rect x="459.3" y="93.9" width="4.8" height="8.8" fill="#111" />
<rect x="465.3" y="78.3" width="4.8" height="8.3" fill="#111" />
<rect x="465.3" y="93.9" width="4.8" height="8.8" fill="#111" />
<rect x="471.2" y="78.3" width="4.8" height="8.3" fill="#111" />
<rect x="471.2" y="93.9" width="4.8" height="8.8" fill="#111" />
<path d="M458,84 L456.7,84 L456.7,96.5 L458,96.5" fill="none" stroke="#555" stroke-width="0.9" />
<path d="M476.7,84 L478,84 L478,96.5 L476.7,96.5" fill="none" stroke="#555" stroke-width="0.9" />
<text transform="translate(459.5,112.5)" font-size="11" text-anchor="start" font-weight="normal" fill="#000" textLength="13" lengthAdjust="spacingAndGlyphs">U1</text>
<rect x="523.3" y="51.1" width="6.2" height="9.4" fill="#111" />
<rect x="517.2" y="66.2" width="6.6" height="9.3" fill="#111" />
<rect x="530.3" y="66.2" width="6.5" height="9.3" fill="#111" />
<path d="M517,68.8 L515.5,68.8 L515.5,57.9 L538.3,57.9 L538.3,68.8 L537,68.8" fill="none" stroke="#666" stroke-width="1" />
<line x1="524" y1="68.8" x2="530" y2="68.8" stroke="#000" stroke-width="0.8"/>
<text transform="translate(501,77.6)" font-size="10.5" text-anchor="start" font-weight="normal" fill="#000" textLength="10.5" lengthAdjust="spacingAndGlyphs">T1</text>
<rect x="547.2" y="51.1" width="7.8" height="10.4" fill="#111" />
<rect x="547.2" y="70.9" width="7.8" height="10.9" fill="#111" />
<rect x="557" y="51.1" width="7.8" height="10.4" fill="#111" />
<rect x="557" y="70.9" width="7.8" height="10.9" fill="#111" />
<text transform="translate(552.9,48)" font-size="10.5" text-anchor="start" font-weight="normal" fill="#000" textLength="17" lengthAdjust="spacingAndGlyphs">LD1</text>
<text transform="translate(549.3,62.6) rotate(90)" font-size="8.5" text-anchor="start" font-weight="normal" fill="#000" textLength="6.5" lengthAdjust="spacingAndGlyphs">G</text>
<text transform="translate(559,62.6) rotate(90)" font-size="8.5" text-anchor="start" font-weight="normal" fill="#000" textLength="6.5" lengthAdjust="spacingAndGlyphs">R</text>
<line x1="545" y1="54" x2="545" y2="80" stroke="#777" stroke-width="1.1"/>
<line x1="566.5" y1="53" x2="566.5" y2="77" stroke="#000" stroke-width="1"/>
<text transform="translate(576.5,76.6) rotate(-90)" font-size="10" text-anchor="start" font-weight="normal" fill="#000" textLength="20" lengthAdjust="spacingAndGlyphs">COM</text>
<rect x="496.2" y="86" width="8.3" height="14" fill="#111" />
<rect x="497.6" y="90.48" width="5.5" height="5.04" fill="#fff" />
<rect x="499.35" y="92" width="2" height="2" fill="#000" />
<rect x="506.6" y="86" width="8.3" height="14" fill="#111" />
<rect x="508" y="90.48" width="5.5" height="5.04" fill="#fff" />
<rect x="516.5" y="86" width="8.3" height="14" fill="#111" />
<rect x="517.9" y="90.48" width="5.5" height="5.04" fill="#fff" />
<rect x="526.3" y="86" width="8.3" height="14" fill="#111" />
<rect x="527.7" y="90.48" width="5.5" height="5.04" fill="#fff" />
<rect x="547.2" y="86" width="8.3" height="14" fill="#111" />
<rect x="548.6" y="90.48" width="5.5" height="5.04" fill="#fff" />
<rect x="557.3" y="86" width="8.3" height="14" fill="#111" />
<rect x="558.7" y="90.48" width="5.5" height="5.04" fill="#fff" />
<text transform="translate(504.5,121.8) rotate(-90)" font-size="11" text-anchor="start" font-weight="normal" fill="#000" textLength="12" lengthAdjust="spacingAndGlyphs">C3</text>
<text transform="translate(514.9,121.8) rotate(-90)" font-size="11" text-anchor="start" font-weight="normal" fill="#000" textLength="17" lengthAdjust="spacingAndGlyphs">R11</text>
<text transform="translate(524.8,121.8) rotate(-90)" font-size="11" text-anchor="start" font-weight="normal" fill="#000" textLength="17" lengthAdjust="spacingAndGlyphs">R12</text>
<text transform="translate(534.6,121.8) rotate(-90)" font-size="11" text-anchor="start" font-weight="normal" fill="#000" textLength="17" lengthAdjust="spacingAndGlyphs">R13</text>
<text transform="translate(555.5,121.8) rotate(-90)" font-size="11" text-anchor="start" font-weight="normal" fill="#000" textLength="17" lengthAdjust="spacingAndGlyphs">R14</text>
<text transform="translate(565.6,121.8) rotate(-90)" font-size="11" text-anchor="start" font-weight="normal" fill="#000" textLength="17" lengthAdjust="spacingAndGlyphs">R15</text>
<rect x="579.8" y="116.9" width="8.6" height="14" fill="#111" />
<rect x="581.2" y="121.38" width="5.8" height="5.04" fill="#fff" />
<rect x="600.6" y="116.9" width="8.6" height="14" fill="#111" />
<rect x="602" y="121.38" width="5.8" height="5.04" fill="#fff" />
<rect x="592.2" y="116.4" width="5.2" height="16" fill="#111" />
<rect x="592.8" y="121.5" width="4" height="4" fill="#fff" />
<text transform="translate(588.5,114.8) rotate(-90)" font-size="11" text-anchor="start" font-weight="normal" fill="#000" textLength="19" lengthAdjust="spacingAndGlyphs">R18</text>
<text transform="translate(597.5,114.8) rotate(-90)" font-size="11" text-anchor="start" font-weight="normal" fill="#000" textLength="19" lengthAdjust="spacingAndGlyphs">LD2</text>
<text transform="translate(609.3,114.8) rotate(-90)" font-size="11" text-anchor="start" font-weight="normal" fill="#000" textLength="19" lengthAdjust="spacingAndGlyphs">R36</text>
<rect x="350" y="120.3" width="8.8" height="39.5" fill="#111" />
<rect x="408.2" y="120.3" width="8.8" height="39.5" fill="#111" />
<rect x="363" y="106" width="41" height="8.6" fill="#111" />
<rect x="363" y="164.5" width="41" height="8.6" fill="#111" />
<line x1="350" y1="126.88" x2="358.8" y2="126.88" stroke="#fff" stroke-width="0.9"/>
<line x1="408.2" y1="126.88" x2="417" y2="126.88" stroke="#fff" stroke-width="0.9"/>
<line x1="369.83" y1="106" x2="369.83" y2="114.6" stroke="#fff" stroke-width="0.9"/>
<line x1="369.83" y1="164.5" x2="369.83" y2="173.1" stroke="#fff" stroke-width="0.9"/>
<line x1="350" y1="133.47" x2="358.8" y2="133.47" stroke="#fff" stroke-width="0.9"/>
<line x1="408.2" y1="133.47" x2="417" y2="133.47" stroke="#fff" stroke-width="0.9"/>
<line x1="376.67" y1="106" x2="376.67" y2="114.6" stroke="#fff" stroke-width="0.9"/>
<line x1="376.67" y1="164.5" x2="376.67" y2="173.1" stroke="#fff" stroke-width="0.9"/>
<line x1="350" y1="140.05" x2="358.8" y2="140.05" stroke="#fff" stroke-width="0.9"/>
<line x1="408.2" y1="140.05" x2="417" y2="140.05" stroke="#fff" stroke-width="0.9"/>
<line x1="383.5" y1="106" x2="383.5" y2="114.6" stroke="#fff" stroke-width="0.9"/>
<line x1="383.5" y1="164.5" x2="383.5" y2="173.1" stroke="#fff" stroke-width="0.9"/>
<line x1="350" y1="146.63" x2="358.8" y2="146.63" stroke="#fff" stroke-width="0.9"/>
<line x1="408.2" y1="146.63" x2="417" y2="146.63" stroke="#fff" stroke-width="0.9"/>
<line x1="390.33" y1="106" x2="390.33" y2="114.6" stroke="#fff" stroke-width="0.9"/>
<line x1="390.33" y1="164.5" x2="390.33" y2="173.1" stroke="#fff" stroke-width="0.9"/>
<line x1="350" y1="153.22" x2="358.8" y2="153.22" stroke="#fff" stroke-width="0.9"/>
<line x1="408.2" y1="153.22" x2="417" y2="153.22" stroke="#fff" stroke-width="0.9"/>
<line x1="397.17" y1="106" x2="397.17" y2="114.6" stroke="#fff" stroke-width="0.9"/>
<line x1="397.17" y1="164.5" x2="397.17" y2="173.1" stroke="#fff" stroke-width="0.9"/>
<rect x="359.9" y="116.1" width="47.1" height="46.8" rx="2" fill="#fff" stroke="#222" stroke-width="1.2"/>
<circle cx="364.5" cy="120.8" r="1.8" fill="none" stroke="#000" stroke-width="0.9"/>
<text transform="translate(341.5,113.5)" font-size="11.5" text-anchor="start" font-weight="normal" fill="#000" textLength="13.5" lengthAdjust="spacingAndGlyphs">U2</text>
<text transform="translate(341.2,119.3) rotate(90)" font-size="8.5" text-anchor="start" font-weight="normal" fill="#000">1</text>
<rect x="320.2" y="125.3" width="18.6" height="11.3" fill="#111" />
<rect x="320.2" y="138" width="18.6" height="10.8" fill="#111" />
<text transform="translate(322,121)" font-size="11.5" text-anchor="start" font-weight="normal" fill="#000" textLength="13" lengthAdjust="spacingAndGlyphs">X1</text>
<rect x="299.3" y="126.4" width="14.3" height="7.2" fill="#111" />
<rect x="303.88" y="127.8" width="5.15" height="4.4" fill="#fff" />
<rect x="305.45" y="129" width="2" height="2" fill="#000" />
<text transform="translate(283.3,133.5)" font-size="11" text-anchor="start" font-weight="normal" fill="#000" textLength="14" lengthAdjust="spacingAndGlyphs">C4</text>
<rect x="299.3" y="139.3" width="14.3" height="7.2" fill="#111" />
<rect x="303.88" y="140.7" width="5.15" height="4.4" fill="#fff" />
<rect x="305.45" y="141.9" width="2" height="2" fill="#000" />
<text transform="translate(283.3,146.8)" font-size="11" text-anchor="start" font-weight="normal" fill="#000" textLength="14" lengthAdjust="spacingAndGlyphs">C5</text>
<rect x="327.2" y="156" width="13.6" height="8.8" fill="#111" />
<rect x="331.55" y="157.4" width="4.9" height="6" fill="#fff" />
<rect x="333" y="159.4" width="2" height="2" fill="#000" />
<text transform="translate(305.9,164.5)" font-size="11" text-anchor="start" font-weight="normal" fill="#000" textLength="20" lengthAdjust="spacingAndGlyphs">C10</text>
<rect x="348.5" y="179" width="8.6" height="14" fill="#111" />
<rect x="349.9" y="183.48" width="5.8" height="5.04" fill="#fff" />
<rect x="358.8" y="179" width="8.6" height="14" fill="#111" />
<rect x="360.2" y="183.48" width="5.8" height="5.04" fill="#fff" />
<rect x="398" y="179" width="8.6" height="14" fill="#111" />
<rect x="399.4" y="183.48" width="5.8" height="5.04" fill="#fff" />
<rect x="401.3" y="185" width="2" height="2" fill="#000" />
<rect x="408.5" y="179" width="8.6" height="14" fill="#111" />
<rect x="409.9" y="183.48" width="5.8" height="5.04" fill="#fff" />
<text transform="translate(346.5,196.5) rotate(-90)" font-size="11" text-anchor="start" font-weight="normal" fill="#000" textLength="19" lengthAdjust="spacingAndGlyphs">R22</text>
<text transform="translate(376.5,196.5) rotate(-90)" font-size="11" text-anchor="start" font-weight="normal" fill="#000" textLength="19" lengthAdjust="spacingAndGlyphs">R21</text>
<text transform="translate(395.5,196.5) rotate(-90)" font-size="11" text-anchor="start" font-weight="normal" fill="#000" textLength="19" lengthAdjust="spacingAndGlyphs">C15</text>
<text transform="translate(426.5,196.5) rotate(-90)" font-size="11" text-anchor="start" font-weight="normal" fill="#000" textLength="19" lengthAdjust="spacingAndGlyphs">R23</text>
<rect x="422.8" y="140.5" width="14.5" height="8.4" fill="#111" />
<rect x="427.44" y="141.9" width="5.22" height="5.6" fill="#fff" />
<rect x="422.8" y="150.9" width="14.5" height="8.4" fill="#111" />
<rect x="427.44" y="152.3" width="5.22" height="5.6" fill="#fff" />
<rect x="429.05" y="154.1" width="2" height="2" fill="#000" />
<text transform="translate(422,137.5)" font-size="11" text-anchor="start" font-weight="normal" fill="#000" textLength="19" lengthAdjust="spacingAndGlyphs">R20</text>
<text transform="translate(422.5,168)" font-size="11" text-anchor="start" font-weight="normal" fill="#000" textLength="17" lengthAdjust="spacingAndGlyphs">C11</text>
<rect x="462" y="142.7" width="22" height="3.8" fill="#111" />
<rect x="466.5" y="139.5" width="13" height="10" fill="none" stroke="#555" stroke-width="1.05" rx="0"/>
<path d="M471.5,140.1 L476,144.6 L471.5,149.1 Z" fill="#000" stroke="none" stroke-width="1" />
<line x1="476.3" y1="140.1" x2="476.3" y2="149.1" stroke="#000" stroke-width="0.9"/>
<text transform="translate(446,148)" font-size="11" text-anchor="start" font-weight="normal" fill="#000" textLength="13.5" lengthAdjust="spacingAndGlyphs">D3</text>
<rect x="462" y="155.7" width="22" height="3.8" fill="#111" />
<rect x="466.5" y="152.5" width="13" height="10" fill="none" stroke="#555" stroke-width="1.05" rx="0"/>
<path d="M471.5,153.1 L476,157.6 L471.5,162.1 Z" fill="#000" stroke="none" stroke-width="1" />
<line x1="476.3" y1="153.1" x2="476.3" y2="162.1" stroke="#000" stroke-width="0.9"/>
<text transform="translate(446,161)" font-size="11" text-anchor="start" font-weight="normal" fill="#000" textLength="13.5" lengthAdjust="spacingAndGlyphs">D5</text>
<rect x="462" y="169.1" width="22" height="3.8" fill="#111" />
<rect x="466.5" y="165.5" width="13" height="11" fill="none" stroke="#555" stroke-width="1.05" rx="0"/>
<path d="M471.5,166.5 L476,171 L471.5,175.5 Z" fill="#000" stroke="none" stroke-width="1" />
<line x1="476.3" y1="166.5" x2="476.3" y2="175.5" stroke="#000" stroke-width="0.9"/>
<text transform="translate(446,174.4)" font-size="11" text-anchor="start" font-weight="normal" fill="#000" textLength="13.5" lengthAdjust="spacingAndGlyphs">D4</text>
<rect x="491.2" y="142.1" width="8.3" height="4.7" fill="#111" />
<rect x="491.2" y="148.9" width="8.3" height="4.7" fill="#111" />
<rect x="491.2" y="155.1" width="8.3" height="4.7" fill="#111" />
<rect x="506.3" y="142.1" width="8.3" height="4.7" fill="#111" />
<rect x="506.3" y="155.1" width="8.3" height="4.7" fill="#111" />
<rect x="496.5" y="140.5" width="14" height="22" fill="none" stroke="#444" stroke-width="1.05" rx="0"/>
<text transform="translate(495.5,137.5)" font-size="11" text-anchor="start" font-weight="normal" fill="#000" textLength="13" lengthAdjust="spacingAndGlyphs">U3</text>
<text transform="translate(489.6,136.8) rotate(90)" font-size="8.5" text-anchor="start" font-weight="normal" fill="#000">1</text>
<rect x="519.3" y="142.1" width="7.7" height="14.6" fill="#111" />
<rect x="520.7" y="146.77" width="4.9" height="5.26" fill="#fff" />
<rect x="522.15" y="148.4" width="2" height="2" fill="#000" />
<rect x="529.1" y="142.1" width="8.3" height="14.6" fill="#111" />
<rect x="530.5" y="146.77" width="5.5" height="5.26" fill="#fff" />
<rect x="532.25" y="148.4" width="2" height="2" fill="#000" />
<text transform="translate(518.7,128) rotate(90)" font-size="11" text-anchor="start" font-weight="normal" fill="#000" textLength="11.5" lengthAdjust="spacingAndGlyphs">C7</text>
<text transform="translate(529.1,128) rotate(90)" font-size="11" text-anchor="start" font-weight="normal" fill="#000" textLength="11.5" lengthAdjust="spacingAndGlyphs">C6</text>
<rect x="486" y="169.6" width="8.5" height="13.4" fill="#111" />
<rect x="487.4" y="173.89" width="5.7" height="4.82" fill="#fff" />
<rect x="489.25" y="175.3" width="2" height="2" fill="#000" />
<rect x="496.1" y="169.6" width="8.5" height="13.4" fill="#111" />
<rect x="497.5" y="173.89" width="5.7" height="4.82" fill="#fff" />
<rect x="499.35" y="175.3" width="2" height="2" fill="#000" />
<rect x="507" y="169.6" width="8.5" height="13.4" fill="#111" />
<rect x="508.4" y="173.89" width="5.7" height="4.82" fill="#fff" />
<rect x="510.25" y="175.3" width="2" height="2" fill="#000" />
<text transform="translate(474.3,194)" font-size="11" text-anchor="start" font-weight="normal" fill="#000" textLength="39" lengthAdjust="spacingAndGlyphs">C12C13</text>
<text transform="translate(525,185.4) rotate(-90)" font-size="11" text-anchor="start" font-weight="normal" fill="#000" textLength="17.4" lengthAdjust="spacingAndGlyphs">C14</text>
<rect x="555.4" y="142.4" width="8.3" height="14.1" fill="#111" />
<rect x="556.8" y="146.91" width="5.5" height="5.08" fill="#fff" />
<rect x="558.55" y="148.45" width="2" height="2" fill="#000" />
<text transform="translate(554.7,125.8) rotate(90)" font-size="11" text-anchor="start" font-weight="normal" fill="#000" textLength="12.8" lengthAdjust="spacingAndGlyphs">C8</text>
<rect x="570.1" y="139.8" width="4.5" height="9" fill="#111" />
<rect x="582.3" y="139.8" width="4.4" height="9" fill="#111" />
<rect x="570" y="155.2" width="16.7" height="8.3" fill="#111" />
<line x1="575.5" y1="155.2" x2="575.5" y2="163.5" stroke="#fff" stroke-width="0.9"/>
<line x1="581.2" y1="155.2" x2="581.2" y2="163.5" stroke="#fff" stroke-width="0.9"/>
<path d="M568.5,145 L567.1,145 L567.1,158.4 L568.5,158.4 M588.3,145 L589.7,145 L589.7,158.4 L588.3,158.4" fill="none" stroke="#444" stroke-width="0.9" />
<line x1="574.6" y1="145" x2="582.3" y2="145" stroke="#000" stroke-width="0.9"/>
<text transform="translate(566,134.5)" font-size="11" text-anchor="start" font-weight="normal" fill="#000" textLength="13.5" lengthAdjust="spacingAndGlyphs">U4</text>
<text transform="translate(564,167.5)" font-size="8" text-anchor="start" font-weight="normal" fill="#000">1</text>
<rect x="597" y="142.4" width="8.3" height="14.7" fill="#111" />
<rect x="598.4" y="147.1" width="5.5" height="5.29" fill="#fff" />
<text transform="translate(605.3,178.9) rotate(-90)" font-size="11" text-anchor="start" font-weight="normal" fill="#000" textLength="19" lengthAdjust="spacingAndGlyphs">R24</text>
<rect x="568.2" y="169.3" width="7.7" height="14.1" fill="#111" />
<rect x="569.6" y="173.81" width="4.9" height="5.08" fill="#fff" />
<rect x="571.05" y="175.35" width="2" height="2" fill="#000" />
<text transform="translate(576,199.4) rotate(-90)" font-size="11" text-anchor="start" font-weight="normal" fill="#000" textLength="13" lengthAdjust="spacingAndGlyphs">C9</text>
<rect x="306.5" y="212.5" width="41" height="41" fill="none" stroke="#222" stroke-width="1.05" rx="0"/>
<circle cx="327.1" cy="232.8" r="13.3" fill="none" stroke="#222" stroke-width="1.1"/>
<rect x="318.5" y="224.5" width="17" height="17" fill="none" stroke="#222" stroke-width="1.05" rx="0"/>
<circle cx="310" cy="217.3" r="2.3" fill="none" stroke="#222" stroke-width="1"/>
<circle cx="310" cy="248.5" r="2.3" fill="none" stroke="#222" stroke-width="1"/>
<circle cx="344.2" cy="217.3" r="2.3" fill="none" stroke="#222" stroke-width="1"/>
<circle cx="344.2" cy="248.5" r="2.3" fill="none" stroke="#222" stroke-width="1"/>
<rect x="287.3" y="212" width="14.4" height="10.4" fill="#111" />
<rect x="287.3" y="242.9" width="14.4" height="10.7" fill="#111" />
<rect x="352.4" y="212" width="14.4" height="10.4" fill="#111" />
<rect x="352.4" y="242.9" width="14.4" height="10.7" fill="#111" />
<line x1="301.7" y1="217.3" x2="307.7" y2="217.3" stroke="#000" stroke-width="0.9"/>
<line x1="346.5" y1="217.3" x2="352.4" y2="217.3" stroke="#000" stroke-width="0.9"/>
<line x1="301.7" y1="248.5" x2="307.7" y2="248.5" stroke="#000" stroke-width="0.9"/>
<line x1="346.5" y1="248.5" x2="352.4" y2="248.5" stroke="#000" stroke-width="0.9"/>
<rect x="418.5" y="212.5" width="42" height="41" fill="none" stroke="#222" stroke-width="1.05" rx="0"/>
<circle cx="439.6" cy="232.8" r="13.3" fill="none" stroke="#222" stroke-width="1.1"/>
<rect x="430.5" y="224.5" width="17" height="17" fill="none" stroke="#222" stroke-width="1.05" rx="0"/>
<circle cx="422.5" cy="217.3" r="2.3" fill="none" stroke="#222" stroke-width="1"/>
<circle cx="422.5" cy="248.5" r="2.3" fill="none" stroke="#222" stroke-width="1"/>
<circle cx="456.7" cy="217.3" r="2.3" fill="none" stroke="#222" stroke-width="1"/>
<circle cx="456.7" cy="248.5" r="2.3" fill="none" stroke="#222" stroke-width="1"/>
<rect x="399.8" y="212" width="14.4" height="10.4" fill="#111" />
<rect x="399.8" y="242.9" width="14.4" height="10.7" fill="#111" />
<rect x="464.9" y="212" width="14.4" height="10.4" fill="#111" />
<rect x="464.9" y="242.9" width="14.4" height="10.7" fill="#111" />
<line x1="414.2" y1="217.3" x2="420.2" y2="217.3" stroke="#000" stroke-width="0.9"/>
<line x1="459" y1="217.3" x2="464.9" y2="217.3" stroke="#000" stroke-width="0.9"/>
<line x1="414.2" y1="248.5" x2="420.2" y2="248.5" stroke="#000" stroke-width="0.9"/>
<line x1="459" y1="248.5" x2="464.9" y2="248.5" stroke="#000" stroke-width="0.9"/>
<text transform="translate(289.2,263.7)" font-size="10.5" text-anchor="start" font-weight="normal" fill="#000" textLength="12.5" lengthAdjust="spacingAndGlyphs">B1</text>
<text transform="translate(401.2,266.4)" font-size="10.5" text-anchor="start" font-weight="normal" fill="#000" textLength="13" lengthAdjust="spacingAndGlyphs">B2</text>
<text transform="translate(379,246.4) rotate(-90)" font-size="10.5" text-anchor="start" font-weight="normal" fill="#000" textLength="26.4" lengthAdjust="spacingAndGlyphs">USER</text>
<text transform="translate(395,246) rotate(-90)" font-size="10.5" text-anchor="start" font-weight="normal" fill="#000" textLength="32" lengthAdjust="spacingAndGlyphs">RESET</text>
<rect x="274" y="215.2" width="9.6" height="14.4" fill="#111" />
<rect x="275.4" y="219.81" width="6.8" height="5.18" fill="#fff" />
<text transform="translate(273.2,230.4) rotate(-90)" font-size="10.5" text-anchor="start" font-weight="normal" fill="#000" textLength="19.2" lengthAdjust="spacingAndGlyphs">R26</text>
<rect x="264.1" y="237.1" width="8.9" height="14.1" fill="#111" />
<rect x="265.5" y="241.61" width="6.1" height="5.08" fill="#fff" />
<rect x="274.3" y="237.1" width="9" height="14.1" fill="#111" />
<rect x="275.7" y="241.61" width="6.2" height="5.08" fill="#fff" />
<rect x="277.8" y="243.15" width="2" height="2" fill="#000" />
<text transform="translate(272.4,271.2) rotate(-90)" font-size="10.5" text-anchor="start" font-weight="normal" fill="#000" textLength="19.2" lengthAdjust="spacingAndGlyphs">R29</text>
<text transform="translate(282.8,271.2) rotate(-90)" font-size="10.5" text-anchor="start" font-weight="normal" fill="#000" textLength="19.2" lengthAdjust="spacingAndGlyphs">C16</text>
<rect x="214.8" y="277.2" width="8.4" height="14.6" fill="#111" />
<rect x="216.2" y="281.87" width="5.6" height="5.26" fill="#fff" />
<text transform="translate(207.6,274.2)" font-size="10.5" text-anchor="start" font-weight="normal" fill="#000" textLength="19.5" lengthAdjust="spacingAndGlyphs">R30</text>
<rect x="250.1" y="275.2" width="10.9" height="17.7" fill="#111" />
<rect x="251.5" y="280.86" width="8.1" height="6.37" fill="#fff" />
<rect x="254.55" y="283.05" width="2" height="2" fill="#000" />
<text transform="translate(246.7,303.8)" font-size="10.5" text-anchor="start" font-weight="normal" fill="#000" textLength="19" lengthAdjust="spacingAndGlyphs">C17</text>
<rect x="270.5" y="286.5" width="46" height="25" fill="none" stroke="#222" stroke-width="1.05" rx="0"/>
<rect x="282" y="272" width="24" height="11.2" fill="#111" />
<rect x="272" y="314.8" width="10.8" height="12" fill="#111" />
<rect x="288" y="314.8" width="10.8" height="12" fill="#111" />
<rect x="304" y="314.8" width="10.8" height="12" fill="#111" />
<circle cx="277.5" cy="307.5" r="2" fill="none" stroke="#000" stroke-width="1"/>
<text transform="translate(287.6,337.2)" font-size="10.5" text-anchor="start" font-weight="normal" fill="#000" textLength="13" lengthAdjust="spacingAndGlyphs">U5</text>
<text transform="translate(267.5,326)" font-size="8" text-anchor="start" font-weight="normal" fill="#000">1</text>
<rect x="334.5" y="306" width="11.5" height="18.4" fill="#111" />
<rect x="335.9" y="311.89" width="8.7" height="6.62" fill="#fff" />
<rect x="339.25" y="314.2" width="2" height="2" fill="#000" />
<text transform="translate(331.6,335.6)" font-size="10.5" text-anchor="start" font-weight="normal" fill="#000" textLength="19" lengthAdjust="spacingAndGlyphs">C18</text>
<rect x="361.5" y="297.5" width="35" height="18" fill="none" stroke="#000" stroke-width="1.05" rx="0"/>
<rect x="364" y="300" width="12.9" height="12.4" fill="#000" />
<circle cx="388.4" cy="306" r="6.5" fill="#000"/>
<text transform="translate(369.2,294)" font-size="10.5" text-anchor="start" font-weight="normal" fill="#000" textLength="19" lengthAdjust="spacingAndGlyphs">JP3</text>
<text transform="translate(374,326)" font-size="10" text-anchor="start" font-weight="normal" fill="#000" textLength="14" lengthAdjust="spacingAndGlyphs">IDD</text>
<text transform="translate(357,312.5)" font-size="8" text-anchor="start" font-weight="normal" fill="#000">1</text>
<text transform="translate(261.5,356.6)" font-size="10.5" text-anchor="start" font-weight="normal" fill="#000" textLength="42.5" lengthAdjust="spacingAndGlyphs">MB1360C</text>
<text transform="translate(261,368.4)" font-size="13.5" text-anchor="start" font-weight="normal" fill="#000" textLength="173.8" lengthAdjust="spacingAndGlyphs">www.st.com/stm32nucleo</text>
<rect x="406" y="315.4" width="8.8" height="18" fill="#222" />
<path d="M406,320.5 L410.4,324.5 L414.8,320.5" fill="none" stroke="#fff" stroke-width="1" />
<rect x="416.4" y="317" width="8" height="14.8" fill="#111" />
<rect x="417.8" y="321.74" width="5.2" height="5.33" fill="#fff" />
<rect x="419.4" y="323.4" width="2" height="2" fill="#000" />
<rect x="426.8" y="317" width="8" height="14.8" fill="#111" />
<rect x="428.2" y="321.74" width="5.2" height="5.33" fill="#fff" />
<rect x="429.8" y="323.4" width="2" height="2" fill="#000" />
<rect x="439.2" y="314.6" width="21.6" height="22" fill="none" stroke="#333" stroke-width="1.3" rx="0"/>
<rect x="444.4" y="318.2" width="10.8" height="15.6" fill="#111" />
<rect x="439.8" y="318.5" width="3" height="4" fill="#111" />
<rect x="457.3" y="318.5" width="3" height="4" fill="#111" />
<rect x="439.8" y="325" width="3" height="4" fill="#111" />
<rect x="457.3" y="325" width="3" height="4" fill="#111" />
<rect x="439.8" y="331" width="3" height="4" fill="#111" />
<rect x="457.3" y="331" width="3" height="4" fill="#111" />
<rect x="465.2" y="318.2" width="7.6" height="14.4" fill="#111" />
<rect x="466.6" y="322.81" width="4.8" height="5.18" fill="#fff" />
<rect x="468" y="324.4" width="2" height="2" fill="#000" />
<rect x="475.2" y="318.2" width="7.8" height="14.4" fill="#111" />
<rect x="476.6" y="322.81" width="5" height="5.18" fill="#fff" />
<rect x="478.1" y="324.4" width="2" height="2" fill="#000" />
<text transform="translate(414.8,353.8) rotate(-90)" font-size="10.5" text-anchor="start" font-weight="normal" fill="#000" textLength="16" lengthAdjust="spacingAndGlyphs">SB1</text>
<text transform="translate(424.4,353.8) rotate(-90)" font-size="10.5" text-anchor="start" font-weight="normal" fill="#000" textLength="16" lengthAdjust="spacingAndGlyphs">C20</text>
<text transform="translate(434.8,353.8) rotate(-90)" font-size="10.5" text-anchor="start" font-weight="normal" fill="#000" textLength="16" lengthAdjust="spacingAndGlyphs">C19</text>
<text transform="translate(472.8,353.8) rotate(-90)" font-size="10.5" text-anchor="start" font-weight="normal" fill="#000" textLength="16" lengthAdjust="spacingAndGlyphs">C21</text>
<text transform="translate(483,353.8) rotate(-90)" font-size="10.5" text-anchor="start" font-weight="normal" fill="#000" textLength="16" lengthAdjust="spacingAndGlyphs">C22</text>
<text transform="translate(442,349)" font-size="10.5" text-anchor="start" font-weight="normal" fill="#000" textLength="13" lengthAdjust="spacingAndGlyphs">U6</text>
<text transform="translate(456,337.3) rotate(90)" font-size="7.5" text-anchor="start" font-weight="normal" fill="#000">1</text>
<rect x="337" y="400.8" width="11.5" height="53.7" fill="#111" />
<rect x="417.5" y="400.8" width="11.5" height="53.7" fill="#111" />
<rect x="356" y="382" width="54" height="11.8" fill="#111" />
<rect x="356" y="461.5" width="54" height="12.4" fill="#111" />
<line x1="337" y1="408.47" x2="348.5" y2="408.47" stroke="#fff" stroke-width="1"/>
<line x1="417.5" y1="408.47" x2="429" y2="408.47" stroke="#fff" stroke-width="1"/>
<line x1="363.71" y1="382" x2="363.71" y2="393.8" stroke="#fff" stroke-width="1"/>
<line x1="363.71" y1="461.5" x2="363.71" y2="473.9" stroke="#fff" stroke-width="1"/>
<line x1="337" y1="416.14" x2="348.5" y2="416.14" stroke="#fff" stroke-width="1"/>
<line x1="417.5" y1="416.14" x2="429" y2="416.14" stroke="#fff" stroke-width="1"/>
<line x1="371.43" y1="382" x2="371.43" y2="393.8" stroke="#fff" stroke-width="1"/>
<line x1="371.43" y1="461.5" x2="371.43" y2="473.9" stroke="#fff" stroke-width="1"/>
<line x1="337" y1="423.81" x2="348.5" y2="423.81" stroke="#fff" stroke-width="1"/>
<line x1="417.5" y1="423.81" x2="429" y2="423.81" stroke="#fff" stroke-width="1"/>
<line x1="379.14" y1="382" x2="379.14" y2="393.8" stroke="#fff" stroke-width="1"/>
<line x1="379.14" y1="461.5" x2="379.14" y2="473.9" stroke="#fff" stroke-width="1"/>
<line x1="337" y1="431.49" x2="348.5" y2="431.49" stroke="#fff" stroke-width="1"/>
<line x1="417.5" y1="431.49" x2="429" y2="431.49" stroke="#fff" stroke-width="1"/>
<line x1="386.86" y1="382" x2="386.86" y2="393.8" stroke="#fff" stroke-width="1"/>
<line x1="386.86" y1="461.5" x2="386.86" y2="473.9" stroke="#fff" stroke-width="1"/>
<line x1="337" y1="439.16" x2="348.5" y2="439.16" stroke="#fff" stroke-width="1"/>
<line x1="417.5" y1="439.16" x2="429" y2="439.16" stroke="#fff" stroke-width="1"/>
<line x1="394.57" y1="382" x2="394.57" y2="393.8" stroke="#fff" stroke-width="1"/>
<line x1="394.57" y1="461.5" x2="394.57" y2="473.9" stroke="#fff" stroke-width="1"/>
<line x1="337" y1="446.83" x2="348.5" y2="446.83" stroke="#fff" stroke-width="1"/>
<line x1="417.5" y1="446.83" x2="429" y2="446.83" stroke="#fff" stroke-width="1"/>
<line x1="402.29" y1="382" x2="402.29" y2="393.8" stroke="#fff" stroke-width="1"/>
<line x1="402.29" y1="461.5" x2="402.29" y2="473.9" stroke="#fff" stroke-width="1"/>
<path d="M348.5,398 L348.5,462.4 L417.5,462.4 L417.5,392.9 L354,392.9 Z" fill="#fff" stroke="#222" stroke-width="1.1"/>
<circle cx="355.5" cy="400.3" r="3.3" fill="none" stroke="#000" stroke-width="1.1"/>
<circle cx="362.6" cy="427.7" r="1.2" fill="#000"/>
<circle cx="404.8" cy="427.7" r="1.2" fill="#000"/>
<rect x="-8" y="-2.8" width="16" height="5.6" fill="#111" transform="translate(342.5,387) rotate(-45)"/>
<rect x="-8" y="-2.8" width="16" height="5.6" fill="#111" transform="translate(424,387) rotate(45)"/>
<rect x="-8" y="-2.8" width="16" height="5.6" fill="#111" transform="translate(342.5,468.6) rotate(45)"/>
<rect x="-8" y="-2.8" width="16" height="5.6" fill="#111" transform="translate(424,468.6) rotate(-45)"/>
<text transform="translate(338.8,397.3) rotate(90)" font-size="8" text-anchor="start" font-weight="normal" fill="#000">1</text>
<text transform="translate(440.9,400.2)" font-size="10.5" text-anchor="start" font-weight="normal" fill="#000" textLength="13" lengthAdjust="spacingAndGlyphs">U7</text>
<g transform="translate(430,400) scale(0.09597)"><path d="M65,455 L180,160 C200,110 230,95 280,95 L885,95 L860,165 L320,165 C260,170 235,210 240,260 C245,300 270,320 300,345 L360,400 C375,415 370,440 360,455 Z" fill="#000"/><path d="M305,240 L625,240 L510,530 L380,530 C420,500 440,470 430,420 C420,380 380,350 340,310 C300,280 290,250 305,240 Z" fill="#000"/><path d="M705,240 L830,240 L750,450 C730,510 690,535 620,535 L585,535 L690,260 C695,250 700,240 705,240 Z" fill="#000"/></g>
<rect x="269.2" y="401.4" width="14.7" height="8" fill="#111" />
<rect x="273.9" y="402.8" width="5.29" height="5.2" fill="#fff" />
<rect x="275.55" y="404.4" width="2" height="2" fill="#000" />
<text transform="translate(265.2,399)" font-size="10.5" text-anchor="start" font-weight="normal" fill="#000" textLength="19" lengthAdjust="spacingAndGlyphs">C23</text>
<rect x="269.2" y="418.2" width="14.7" height="7.7" fill="#111" />
<rect x="273.9" y="419.6" width="5.29" height="4.9" fill="#fff" />
<rect x="275.55" y="421.05" width="2" height="2" fill="#000" />
<text transform="translate(264.7,416.9)" font-size="10.5" text-anchor="start" font-weight="normal" fill="#000" textLength="19" lengthAdjust="spacingAndGlyphs">C24</text>
<rect x="289.2" y="402.2" width="12.8" height="6.4" fill="#111" />
<rect x="289.2" y="419.8" width="12.8" height="5.6" fill="#111" />
<rect x="290.5" y="408.5" width="10" height="11" fill="none" stroke="#444" stroke-width="1.05" rx="0"/>
<circle cx="295.6" cy="414.2" r="1.8" fill="#000"/>
<text transform="translate(288.7,396.6)" font-size="10.5" text-anchor="start" font-weight="normal" fill="#000" textLength="13" lengthAdjust="spacingAndGlyphs">X2</text>
<text transform="translate(306,392.3)" font-size="10.5" text-anchor="start" font-weight="normal" fill="#000" textLength="18.5" lengthAdjust="spacingAndGlyphs">R31</text>
<text transform="translate(306,402.2)" font-size="10.5" text-anchor="start" font-weight="normal" fill="#000" textLength="18.5" lengthAdjust="spacingAndGlyphs">R32</text>
<rect x="310" y="404.6" width="14.4" height="8" fill="#111" />
<rect x="314.8" y="405.9" width="5" height="5.4" fill="#fff" />
<rect x="310" y="415" width="14.4" height="8" fill="#111" />
<rect x="314.8" y="416.3" width="5" height="5.4" fill="#fff" />
<rect x="310" y="425.4" width="14.4" height="8" fill="#111" />
<rect x="314.8" y="426.7" width="5" height="5.4" fill="#fff" />
<rect x="310" y="435.8" width="14.4" height="8" fill="#111" />
<rect x="314.8" y="437.1" width="5" height="5.4" fill="#fff" />
<text transform="translate(306,452.6)" font-size="10.5" text-anchor="start" font-weight="normal" fill="#000" textLength="18.5" lengthAdjust="spacingAndGlyphs">R33</text>
<text transform="translate(306,462.2)" font-size="10.5" text-anchor="start" font-weight="normal" fill="#000" textLength="18.5" lengthAdjust="spacingAndGlyphs">R34</text>
<rect x="264" y="438.2" width="13.5" height="8" fill="#111" />
<rect x="268.32" y="439.6" width="4.86" height="5.2" fill="#fff" />
<rect x="269.75" y="441.2" width="2" height="2" fill="#000" />
<text transform="translate(260.4,436.6)" font-size="10.5" text-anchor="start" font-weight="normal" fill="#000" textLength="19" lengthAdjust="spacingAndGlyphs">C25</text>
<rect x="264" y="451" width="13.5" height="8" fill="#111" />
<rect x="268.32" y="452.4" width="4.86" height="5.2" fill="#fff" />
<rect x="269.75" y="454" width="2" height="2" fill="#000" />
<text transform="translate(262,468.1)" font-size="10.5" text-anchor="start" font-weight="normal" fill="#000" textLength="19" lengthAdjust="spacingAndGlyphs">C26</text>
<rect x="283.3" y="437.1" width="18.7" height="10.9" fill="#111" />
<rect x="283.3" y="449.6" width="18.7" height="11" fill="#111" />
<text transform="translate(284.9,435.5)" font-size="10.5" text-anchor="start" font-weight="normal" fill="#000" textLength="13" lengthAdjust="spacingAndGlyphs">X3</text>
<path d="M276.2,488.4 A7.5,7.5 0 1 0 276.2,501.3" fill="none" stroke="#000" stroke-width="2.6"/>
<path d="M289.1,488.4 A7.5,7.5 0 1 0 289.1,501.3 M280,494.85 L288.5,494.85" fill="none" stroke="#000" stroke-width="2.6"/>
<rect x="311.5" y="483.5" width="170" height="62" fill="none" stroke="#222" stroke-width="1.05" rx="0"/>
<rect x="255.5" y="522.5" width="18.2" height="8" fill="#222" />
<path d="M263,522.5 L266.5,526.5 L263,530.5" fill="none" stroke="#fff" stroke-width="1" />
<text transform="translate(275.4,530.5)" font-size="10.5" text-anchor="start" font-weight="normal" fill="#000" textLength="18.5" lengthAdjust="spacingAndGlyphs">SB2</text>
<rect x="255.5" y="533" width="18.2" height="8" fill="#222" />
<path d="M266,533 L262.5,537 L266,541" fill="none" stroke="#fff" stroke-width="1" />
<text transform="translate(275.4,541)" font-size="10.5" text-anchor="start" font-weight="normal" fill="#000" textLength="18.5" lengthAdjust="spacingAndGlyphs">SB4</text>
<rect x="255.5" y="543.6" width="18.2" height="8" fill="#222" />
<path d="M266,543.6 L262.5,547.6 L266,551.6" fill="none" stroke="#fff" stroke-width="1" />
<text transform="translate(275.4,551.6)" font-size="10.5" text-anchor="start" font-weight="normal" fill="#000" textLength="18.5" lengthAdjust="spacingAndGlyphs">SB3</text>
<rect x="255.5" y="554.2" width="18.2" height="8" fill="#222" />
<path d="M263,554.2 L266.5,558.2 L263,562.2" fill="none" stroke="#fff" stroke-width="1" />
<text transform="translate(275.4,562.2)" font-size="10.5" text-anchor="start" font-weight="normal" fill="#000" textLength="18.5" lengthAdjust="spacingAndGlyphs">SB5</text>
<path d="M683.6,198.4 L683.6,45 A12.6,12.6 0 0 1 696.2,32.4 L1146.8,32.4 A12.6,12.6 0 0 1 1159.4,45 L1159.4,198.4" fill="none" stroke="#6a6a6a" stroke-width="1.2" />
<path d="M683.6,198.6 L792.3,198.6 A3.6,3.6 0 0 1 792.3,205.8 L683.6,205.8" fill="none" stroke="#6a6a6a" stroke-width="1.2" />
<path d="M820,198.6 L869.5,198.6 A3.6,3.6 0 0 1 869.5,205.8 L820,205.8 A3.6,3.6 0 0 1 820,198.6" fill="none" stroke="#111" stroke-width="1.3" />
<path d="M901,198.6 L1030,198.6 A3.6,3.6 0 0 1 1030,205.8 L901,205.8 A3.6,3.6 0 0 1 901,198.6" fill="none" stroke="#111" stroke-width="1.3" />
<path d="M1159.4,198.6 L1054.3,198.6 A3.6,3.6 0 0 0 1054.3,205.8 L1159.4,205.8" fill="none" stroke="#6a6a6a" stroke-width="1.2" />
<path d="M683.6,205.8 L683.6,564.5 A14.9,14.9 0 0 0 698.5,579.4 L830.4,579.4 L844,593 L1067.3,593 L1081.6,579.4 L1145,579.4 A14.4,14.4 0 0 0 1159.4,565 L1159.4,205.8" fill="none" stroke="#6a6a6a" stroke-width="1.2" />
<text transform="translate(1100.5,23.6) scale(-1,1)" font-size="9.5" text-anchor="middle" font-weight="normal" fill="#222">MB1360C</text>
<rect x="716" y="242" width="12.8" height="12.8" fill="#000" />
<circle cx="705.3" cy="248.4" r="6.5" fill="#000"/>
<circle cx="722.4" cy="265.65" r="6.5" fill="#000"/>
<circle cx="705.3" cy="265.65" r="6.5" fill="#000"/>
<circle cx="722.4" cy="282.9" r="6.5" fill="#000"/>
<circle cx="705.3" cy="282.9" r="6.5" fill="#000"/>
<circle cx="722.4" cy="300.15" r="6.5" fill="#000"/>
<circle cx="705.3" cy="300.15" r="6.5" fill="#000"/>
<circle cx="722.4" cy="317.4" r="6.5" fill="#000"/>
<circle cx="705.3" cy="317.4" r="6.5" fill="#000"/>
<circle cx="722.4" cy="334.65" r="6.5" fill="#000"/>
<circle cx="705.3" cy="334.65" r="6.5" fill="#000"/>
<circle cx="722.4" cy="351.9" r="6.5" fill="#000"/>
<circle cx="705.3" cy="351.9" r="6.5" fill="#000"/>
<circle cx="722.4" cy="369.15" r="6.5" fill="#000"/>
<circle cx="705.3" cy="369.15" r="6.5" fill="#000"/>
<circle cx="722.4" cy="386.4" r="6.5" fill="#000"/>
<circle cx="705.3" cy="386.4" r="6.5" fill="#000"/>
<circle cx="722.4" cy="403.65" r="6.5" fill="#000"/>
<circle cx="705.3" cy="403.65" r="6.5" fill="#000"/>
<circle cx="722.4" cy="420.9" r="6.5" fill="#000"/>
<circle cx="705.3" cy="420.9" r="6.5" fill="#000"/>
<circle cx="722.4" cy="438.15" r="6.5" fill="#000"/>
<circle cx="705.3" cy="438.15" r="6.5" fill="#000"/>
<circle cx="722.4" cy="455.4" r="6.5" fill="#000"/>
<circle cx="705.3" cy="455.4" r="6.5" fill="#000"/>
<circle cx="722.4" cy="472.65" r="6.5" fill="#000"/>
<circle cx="705.3" cy="472.65" r="6.5" fill="#000"/>
<circle cx="722.4" cy="489.9" r="6.5" fill="#000"/>
<circle cx="705.3" cy="489.9" r="6.5" fill="#000"/>
<circle cx="722.4" cy="507.15" r="6.5" fill="#000"/>
<circle cx="705.3" cy="507.15" r="6.5" fill="#000"/>
<circle cx="722.4" cy="524.4" r="6.5" fill="#000"/>
<circle cx="705.3" cy="524.4" r="6.5" fill="#000"/>
<circle cx="722.4" cy="541.65" r="6.5" fill="#000"/>
<circle cx="705.3" cy="541.65" r="6.5" fill="#000"/>
<circle cx="722.4" cy="558.9" r="6.5" fill="#000"/>
<circle cx="705.3" cy="558.9" r="6.5" fill="#000"/>
<line x1="696.6" y1="243.5" x2="696.6" y2="246.5" stroke="#222" stroke-width="0.9"/>
<line x1="732.1" y1="243.5" x2="732.1" y2="246.5" stroke="#222" stroke-width="0.9"/>
<line x1="696.6" y1="260.75" x2="696.6" y2="263.75" stroke="#222" stroke-width="0.9"/>
<line x1="732.1" y1="260.75" x2="732.1" y2="263.75" stroke="#222" stroke-width="0.9"/>
<line x1="696.6" y1="278" x2="696.6" y2="281" stroke="#222" stroke-width="0.9"/>
<line x1="732.1" y1="278" x2="732.1" y2="281" stroke="#222" stroke-width="0.9"/>
<line x1="696.6" y1="295.25" x2="696.6" y2="298.25" stroke="#222" stroke-width="0.9"/>
<line x1="732.1" y1="295.25" x2="732.1" y2="298.25" stroke="#222" stroke-width="0.9"/>
<line x1="696.6" y1="312.5" x2="696.6" y2="315.5" stroke="#222" stroke-width="0.9"/>
<line x1="732.1" y1="312.5" x2="732.1" y2="315.5" stroke="#222" stroke-width="0.9"/>
<line x1="696.6" y1="329.75" x2="696.6" y2="332.75" stroke="#222" stroke-width="0.9"/>
<line x1="732.1" y1="329.75" x2="732.1" y2="332.75" stroke="#222" stroke-width="0.9"/>
<line x1="696.6" y1="347" x2="696.6" y2="350" stroke="#222" stroke-width="0.9"/>
<line x1="732.1" y1="347" x2="732.1" y2="350" stroke="#222" stroke-width="0.9"/>
<line x1="696.6" y1="364.25" x2="696.6" y2="367.25" stroke="#222" stroke-width="0.9"/>
<line x1="732.1" y1="364.25" x2="732.1" y2="367.25" stroke="#222" stroke-width="0.9"/>
<line x1="696.6" y1="381.5" x2="696.6" y2="384.5" stroke="#222" stroke-width="0.9"/>
<line x1="732.1" y1="381.5" x2="732.1" y2="384.5" stroke="#222" stroke-width="0.9"/>
<line x1="696.6" y1="398.75" x2="696.6" y2="401.75" stroke="#222" stroke-width="0.9"/>
<line x1="732.1" y1="398.75" x2="732.1" y2="401.75" stroke="#222" stroke-width="0.9"/>
<line x1="696.6" y1="416" x2="696.6" y2="419" stroke="#222" stroke-width="0.9"/>
<line x1="732.1" y1="416" x2="732.1" y2="419" stroke="#222" stroke-width="0.9"/>
<line x1="696.6" y1="433.25" x2="696.6" y2="436.25" stroke="#222" stroke-width="0.9"/>
<line x1="732.1" y1="433.25" x2="732.1" y2="436.25" stroke="#222" stroke-width="0.9"/>
<line x1="696.6" y1="450.5" x2="696.6" y2="453.5" stroke="#222" stroke-width="0.9"/>
<line x1="732.1" y1="450.5" x2="732.1" y2="453.5" stroke="#222" stroke-width="0.9"/>
<line x1="696.6" y1="467.75" x2="696.6" y2="470.75" stroke="#222" stroke-width="0.9"/>
<line x1="732.1" y1="467.75" x2="732.1" y2="470.75" stroke="#222" stroke-width="0.9"/>
<line x1="696.6" y1="485" x2="696.6" y2="488" stroke="#222" stroke-width="0.9"/>
<line x1="732.1" y1="485" x2="732.1" y2="488" stroke="#222" stroke-width="0.9"/>
<line x1="696.6" y1="502.25" x2="696.6" y2="505.25" stroke="#222" stroke-width="0.9"/>
<line x1="732.1" y1="502.25" x2="732.1" y2="505.25" stroke="#222" stroke-width="0.9"/>
<line x1="696.6" y1="519.5" x2="696.6" y2="522.5" stroke="#222" stroke-width="0.9"/>
<line x1="732.1" y1="519.5" x2="732.1" y2="522.5" stroke="#222" stroke-width="0.9"/>
<line x1="696.6" y1="536.75" x2="696.6" y2="539.75" stroke="#222" stroke-width="0.9"/>
<line x1="732.1" y1="536.75" x2="732.1" y2="539.75" stroke="#222" stroke-width="0.9"/>
<line x1="696.6" y1="554" x2="696.6" y2="557" stroke="#222" stroke-width="0.9"/>
<line x1="732.1" y1="554" x2="732.1" y2="557" stroke="#222" stroke-width="0.9"/>
<line x1="700.9" y1="239" x2="703.9" y2="239" stroke="#222" stroke-width="0.9"/>
<line x1="700.9" y1="568" x2="703.9" y2="568" stroke="#222" stroke-width="0.9"/>
<line x1="708.87" y1="239" x2="711.87" y2="239" stroke="#222" stroke-width="0.9"/>
<line x1="708.87" y1="568" x2="711.87" y2="568" stroke="#222" stroke-width="0.9"/>
<line x1="716.83" y1="239" x2="719.83" y2="239" stroke="#222" stroke-width="0.9"/>
<line x1="716.83" y1="568" x2="719.83" y2="568" stroke="#222" stroke-width="0.9"/>
<line x1="724.8" y1="239" x2="727.8" y2="239" stroke="#222" stroke-width="0.9"/>
<line x1="724.8" y1="568" x2="727.8" y2="568" stroke="#222" stroke-width="0.9"/>
<text transform="translate(714.6,576.6)" font-size="10" text-anchor="middle" font-weight="normal" fill="#000">CN10</text>
<rect x="1131" y="241.9" width="12.8" height="12.8" fill="#000" />
<circle cx="1120.1" cy="248.3" r="6.5" fill="#000"/>
<circle cx="1137.4" cy="265.55" r="6.5" fill="#000"/>
<circle cx="1120.1" cy="265.55" r="6.5" fill="#000"/>
<circle cx="1137.4" cy="282.8" r="6.5" fill="#000"/>
<circle cx="1120.1" cy="282.8" r="6.5" fill="#000"/>
<circle cx="1137.4" cy="300.05" r="6.5" fill="#000"/>
<circle cx="1120.1" cy="300.05" r="6.5" fill="#000"/>
<circle cx="1137.4" cy="317.3" r="6.5" fill="#000"/>
<circle cx="1120.1" cy="317.3" r="6.5" fill="#000"/>
<circle cx="1137.4" cy="334.55" r="6.5" fill="#000"/>
<circle cx="1120.1" cy="334.55" r="6.5" fill="#000"/>
<circle cx="1137.4" cy="351.8" r="6.5" fill="#000"/>
<circle cx="1120.1" cy="351.8" r="6.5" fill="#000"/>
<circle cx="1137.4" cy="369.05" r="6.5" fill="#000"/>
<circle cx="1120.1" cy="369.05" r="6.5" fill="#000"/>
<circle cx="1137.4" cy="386.3" r="6.5" fill="#000"/>
<circle cx="1120.1" cy="386.3" r="6.5" fill="#000"/>
<circle cx="1137.4" cy="403.55" r="6.5" fill="#000"/>
<circle cx="1120.1" cy="403.55" r="6.5" fill="#000"/>
<circle cx="1137.4" cy="420.8" r="6.5" fill="#000"/>
<circle cx="1120.1" cy="420.8" r="6.5" fill="#000"/>
<circle cx="1137.4" cy="438.05" r="6.5" fill="#000"/>
<circle cx="1120.1" cy="438.05" r="6.5" fill="#000"/>
<circle cx="1137.4" cy="455.3" r="6.5" fill="#000"/>
<circle cx="1120.1" cy="455.3" r="6.5" fill="#000"/>
<circle cx="1137.4" cy="472.55" r="6.5" fill="#000"/>
<circle cx="1120.1" cy="472.55" r="6.5" fill="#000"/>
<circle cx="1137.4" cy="489.8" r="6.5" fill="#000"/>
<circle cx="1120.1" cy="489.8" r="6.5" fill="#000"/>
<circle cx="1137.4" cy="507.05" r="6.5" fill="#000"/>
<circle cx="1120.1" cy="507.05" r="6.5" fill="#000"/>
<circle cx="1137.4" cy="524.3" r="6.5" fill="#000"/>
<circle cx="1120.1" cy="524.3" r="6.5" fill="#000"/>
<circle cx="1137.4" cy="541.55" r="6.5" fill="#000"/>
<circle cx="1120.1" cy="541.55" r="6.5" fill="#000"/>
<circle cx="1137.4" cy="558.8" r="6.5" fill="#000"/>
<circle cx="1120.1" cy="558.8" r="6.5" fill="#000"/>
<line x1="1111.2" y1="243.5" x2="1111.2" y2="246.5" stroke="#222" stroke-width="0.9"/>
<line x1="1146.7" y1="243.5" x2="1146.7" y2="246.5" stroke="#222" stroke-width="0.9"/>
<line x1="1111.2" y1="260.75" x2="1111.2" y2="263.75" stroke="#222" stroke-width="0.9"/>
<line x1="1146.7" y1="260.75" x2="1146.7" y2="263.75" stroke="#222" stroke-width="0.9"/>
<line x1="1111.2" y1="278" x2="1111.2" y2="281" stroke="#222" stroke-width="0.9"/>
<line x1="1146.7" y1="278" x2="1146.7" y2="281" stroke="#222" stroke-width="0.9"/>
<line x1="1111.2" y1="295.25" x2="1111.2" y2="298.25" stroke="#222" stroke-width="0.9"/>
<line x1="1146.7" y1="295.25" x2="1146.7" y2="298.25" stroke="#222" stroke-width="0.9"/>
<line x1="1111.2" y1="312.5" x2="1111.2" y2="315.5" stroke="#222" stroke-width="0.9"/>
<line x1="1146.7" y1="312.5" x2="1146.7" y2="315.5" stroke="#222" stroke-width="0.9"/>
<line x1="1111.2" y1="329.75" x2="1111.2" y2="332.75" stroke="#222" stroke-width="0.9"/>
<line x1="1146.7" y1="329.75" x2="1146.7" y2="332.75" stroke="#222" stroke-width="0.9"/>
<line x1="1111.2" y1="347" x2="1111.2" y2="350" stroke="#222" stroke-width="0.9"/>
<line x1="1146.7" y1="347" x2="1146.7" y2="350" stroke="#222" stroke-width="0.9"/>
<line x1="1111.2" y1="364.25" x2="1111.2" y2="367.25" stroke="#222" stroke-width="0.9"/>
<line x1="1146.7" y1="364.25" x2="1146.7" y2="367.25" stroke="#222" stroke-width="0.9"/>
<line x1="1111.2" y1="381.5" x2="1111.2" y2="384.5" stroke="#222" stroke-width="0.9"/>
<line x1="1146.7" y1="381.5" x2="1146.7" y2="384.5" stroke="#222" stroke-width="0.9"/>
<line x1="1111.2" y1="398.75" x2="1111.2" y2="401.75" stroke="#222" stroke-width="0.9"/>
<line x1="1146.7" y1="398.75" x2="1146.7" y2="401.75" stroke="#222" stroke-width="0.9"/>
<line x1="1111.2" y1="416" x2="1111.2" y2="419" stroke="#222" stroke-width="0.9"/>
<line x1="1146.7" y1="416" x2="1146.7" y2="419" stroke="#222" stroke-width="0.9"/>
<line x1="1111.2" y1="433.25" x2="1111.2" y2="436.25" stroke="#222" stroke-width="0.9"/>
<line x1="1146.7" y1="433.25" x2="1146.7" y2="436.25" stroke="#222" stroke-width="0.9"/>
<line x1="1111.2" y1="450.5" x2="1111.2" y2="453.5" stroke="#222" stroke-width="0.9"/>
<line x1="1146.7" y1="450.5" x2="1146.7" y2="453.5" stroke="#222" stroke-width="0.9"/>
<line x1="1111.2" y1="467.75" x2="1111.2" y2="470.75" stroke="#222" stroke-width="0.9"/>
<line x1="1146.7" y1="467.75" x2="1146.7" y2="470.75" stroke="#222" stroke-width="0.9"/>
<line x1="1111.2" y1="485" x2="1111.2" y2="488" stroke="#222" stroke-width="0.9"/>
<line x1="1146.7" y1="485" x2="1146.7" y2="488" stroke="#222" stroke-width="0.9"/>
<line x1="1111.2" y1="502.25" x2="1111.2" y2="505.25" stroke="#222" stroke-width="0.9"/>
<line x1="1146.7" y1="502.25" x2="1146.7" y2="505.25" stroke="#222" stroke-width="0.9"/>
<line x1="1111.2" y1="519.5" x2="1111.2" y2="522.5" stroke="#222" stroke-width="0.9"/>
<line x1="1146.7" y1="519.5" x2="1146.7" y2="522.5" stroke="#222" stroke-width="0.9"/>
<line x1="1111.2" y1="536.75" x2="1111.2" y2="539.75" stroke="#222" stroke-width="0.9"/>
<line x1="1146.7" y1="536.75" x2="1146.7" y2="539.75" stroke="#222" stroke-width="0.9"/>
<line x1="1111.2" y1="554" x2="1111.2" y2="557" stroke="#222" stroke-width="0.9"/>
<line x1="1146.7" y1="554" x2="1146.7" y2="557" stroke="#222" stroke-width="0.9"/>
<line x1="1115.5" y1="239" x2="1118.5" y2="239" stroke="#222" stroke-width="0.9"/>
<line x1="1115.5" y1="568" x2="1118.5" y2="568" stroke="#222" stroke-width="0.9"/>
<line x1="1123.47" y1="239" x2="1126.47" y2="239" stroke="#222" stroke-width="0.9"/>
<line x1="1123.47" y1="568" x2="1126.47" y2="568" stroke="#222" stroke-width="0.9"/>
<line x1="1131.43" y1="239" x2="1134.43" y2="239" stroke="#222" stroke-width="0.9"/>
<line x1="1131.43" y1="568" x2="1134.43" y2="568" stroke="#222" stroke-width="0.9"/>
<line x1="1139.4" y1="239" x2="1142.4" y2="239" stroke="#222" stroke-width="0.9"/>
<line x1="1139.4" y1="568" x2="1142.4" y2="568" stroke="#222" stroke-width="0.9"/>
<text transform="translate(1126,575.7)" font-size="10" text-anchor="middle" font-weight="normal" fill="#000" textLength="20" lengthAdjust="spacingAndGlyphs">CN7</text>
<rect x="1079.2" y="310.9" width="12.8" height="12.8" fill="#000" />
<circle cx="1085.6" cy="334.55" r="6.5" fill="#000"/>
<circle cx="1085.6" cy="351.8" r="6.5" fill="#000"/>
<circle cx="1085.6" cy="369.05" r="6.5" fill="#000"/>
<circle cx="1085.6" cy="386.3" r="6.5" fill="#000"/>
<circle cx="1085.6" cy="403.55" r="6.5" fill="#000"/>
<circle cx="1085.6" cy="420.8" r="6.5" fill="#000"/>
<circle cx="1085.6" cy="438.05" r="6.5" fill="#000"/>
<line x1="1077.4" y1="312.5" x2="1077.4" y2="315.5" stroke="#222" stroke-width="0.9"/>
<line x1="1094.5" y1="312.5" x2="1094.5" y2="315.5" stroke="#222" stroke-width="0.9"/>
<line x1="1077.4" y1="329.75" x2="1077.4" y2="332.75" stroke="#222" stroke-width="0.9"/>
<line x1="1094.5" y1="329.75" x2="1094.5" y2="332.75" stroke="#222" stroke-width="0.9"/>
<line x1="1077.4" y1="347" x2="1077.4" y2="350" stroke="#222" stroke-width="0.9"/>
<line x1="1094.5" y1="347" x2="1094.5" y2="350" stroke="#222" stroke-width="0.9"/>
<line x1="1077.4" y1="364.25" x2="1077.4" y2="367.25" stroke="#222" stroke-width="0.9"/>
<line x1="1094.5" y1="364.25" x2="1094.5" y2="367.25" stroke="#222" stroke-width="0.9"/>
<line x1="1077.4" y1="381.5" x2="1077.4" y2="384.5" stroke="#222" stroke-width="0.9"/>
<line x1="1094.5" y1="381.5" x2="1094.5" y2="384.5" stroke="#222" stroke-width="0.9"/>
<line x1="1077.4" y1="398.75" x2="1077.4" y2="401.75" stroke="#222" stroke-width="0.9"/>
<line x1="1094.5" y1="398.75" x2="1094.5" y2="401.75" stroke="#222" stroke-width="0.9"/>
<line x1="1077.4" y1="416" x2="1077.4" y2="419" stroke="#222" stroke-width="0.9"/>
<line x1="1094.5" y1="416" x2="1094.5" y2="419" stroke="#222" stroke-width="0.9"/>
<line x1="1077.4" y1="433.25" x2="1077.4" y2="436.25" stroke="#222" stroke-width="0.9"/>
<line x1="1094.5" y1="433.25" x2="1094.5" y2="436.25" stroke="#222" stroke-width="0.9"/>
<line x1="1081.7" y1="306.5" x2="1084.7" y2="306.5" stroke="#222" stroke-width="0.9"/>
<line x1="1081.7" y1="448.1" x2="1084.7" y2="448.1" stroke="#222" stroke-width="0.9"/>
<line x1="1087.2" y1="306.5" x2="1090.2" y2="306.5" stroke="#222" stroke-width="0.9"/>
<line x1="1087.2" y1="448.1" x2="1090.2" y2="448.1" stroke="#222" stroke-width="0.9"/>
<text transform="translate(1085.5,457.7)" font-size="10" text-anchor="middle" font-weight="normal" fill="#000" textLength="20" lengthAdjust="spacingAndGlyphs">CN6</text>
<rect x="1079.2" y="466.15" width="12.8" height="12.8" fill="#000" />
<circle cx="1085.6" cy="489.8" r="6.5" fill="#000"/>
<circle cx="1085.6" cy="507.05" r="6.5" fill="#000"/>
<circle cx="1085.6" cy="524.3" r="6.5" fill="#000"/>
<circle cx="1085.6" cy="541.55" r="6.5" fill="#000"/>
<circle cx="1085.6" cy="558.8" r="6.5" fill="#000"/>
<line x1="1077.4" y1="467.75" x2="1077.4" y2="470.75" stroke="#222" stroke-width="0.9"/>
<line x1="1094.5" y1="467.75" x2="1094.5" y2="470.75" stroke="#222" stroke-width="0.9"/>
<line x1="1077.4" y1="485" x2="1077.4" y2="488" stroke="#222" stroke-width="0.9"/>
<line x1="1094.5" y1="485" x2="1094.5" y2="488" stroke="#222" stroke-width="0.9"/>
<line x1="1077.4" y1="502.25" x2="1077.4" y2="505.25" stroke="#222" stroke-width="0.9"/>
<line x1="1094.5" y1="502.25" x2="1094.5" y2="505.25" stroke="#222" stroke-width="0.9"/>
<line x1="1077.4" y1="519.5" x2="1077.4" y2="522.5" stroke="#222" stroke-width="0.9"/>
<line x1="1094.5" y1="519.5" x2="1094.5" y2="522.5" stroke="#222" stroke-width="0.9"/>
<line x1="1077.4" y1="536.75" x2="1077.4" y2="539.75" stroke="#222" stroke-width="0.9"/>
<line x1="1094.5" y1="536.75" x2="1094.5" y2="539.75" stroke="#222" stroke-width="0.9"/>
<line x1="1077.4" y1="554" x2="1077.4" y2="557" stroke="#222" stroke-width="0.9"/>
<line x1="1094.5" y1="554" x2="1094.5" y2="557" stroke="#222" stroke-width="0.9"/>
<line x1="1081.7" y1="462" x2="1084.7" y2="462" stroke="#222" stroke-width="0.9"/>
<line x1="1081.7" y1="567.6" x2="1084.7" y2="567.6" stroke="#222" stroke-width="0.9"/>
<line x1="1087.2" y1="462" x2="1090.2" y2="462" stroke="#222" stroke-width="0.9"/>
<line x1="1087.2" y1="567.6" x2="1090.2" y2="567.6" stroke="#222" stroke-width="0.9"/>
<text transform="translate(1085.5,575.7)" font-size="10" text-anchor="middle" font-weight="normal" fill="#000" textLength="20" lengthAdjust="spacingAndGlyphs">CN8</text>
<circle cx="757.6" cy="254.8" r="6.5" fill="#000"/>
<circle cx="757.6" cy="272.05" r="6.5" fill="#000"/>
<circle cx="757.6" cy="289.3" r="6.5" fill="#000"/>
<circle cx="757.6" cy="306.55" r="6.5" fill="#000"/>
<circle cx="757.6" cy="323.8" r="6.5" fill="#000"/>
<circle cx="757.6" cy="341.05" r="6.5" fill="#000"/>
<circle cx="757.6" cy="358.3" r="6.5" fill="#000"/>
<circle cx="757.6" cy="375.55" r="6.5" fill="#000"/>
<circle cx="757.6" cy="392.8" r="6.5" fill="#000"/>
<rect x="751.2" y="403.65" width="12.8" height="12.8" fill="#000" />
<line x1="749.6" y1="243.5" x2="749.6" y2="246.5" stroke="#222" stroke-width="0.9"/>
<line x1="765.6" y1="243.5" x2="765.6" y2="246.5" stroke="#222" stroke-width="0.9"/>
<line x1="749.6" y1="260.75" x2="749.6" y2="263.75" stroke="#222" stroke-width="0.9"/>
<line x1="765.6" y1="260.75" x2="765.6" y2="263.75" stroke="#222" stroke-width="0.9"/>
<line x1="749.6" y1="278" x2="749.6" y2="281" stroke="#222" stroke-width="0.9"/>
<line x1="765.6" y1="278" x2="765.6" y2="281" stroke="#222" stroke-width="0.9"/>
<line x1="749.6" y1="295.25" x2="749.6" y2="298.25" stroke="#222" stroke-width="0.9"/>
<line x1="765.6" y1="295.25" x2="765.6" y2="298.25" stroke="#222" stroke-width="0.9"/>
<line x1="749.6" y1="312.5" x2="749.6" y2="315.5" stroke="#222" stroke-width="0.9"/>
<line x1="765.6" y1="312.5" x2="765.6" y2="315.5" stroke="#222" stroke-width="0.9"/>
<line x1="749.6" y1="329.75" x2="749.6" y2="332.75" stroke="#222" stroke-width="0.9"/>
<line x1="765.6" y1="329.75" x2="765.6" y2="332.75" stroke="#222" stroke-width="0.9"/>
<line x1="749.6" y1="347" x2="749.6" y2="350" stroke="#222" stroke-width="0.9"/>
<line x1="765.6" y1="347" x2="765.6" y2="350" stroke="#222" stroke-width="0.9"/>
<line x1="749.6" y1="364.25" x2="749.6" y2="367.25" stroke="#222" stroke-width="0.9"/>
<line x1="765.6" y1="364.25" x2="765.6" y2="367.25" stroke="#222" stroke-width="0.9"/>
<line x1="749.6" y1="381.5" x2="749.6" y2="384.5" stroke="#222" stroke-width="0.9"/>
<line x1="765.6" y1="381.5" x2="765.6" y2="384.5" stroke="#222" stroke-width="0.9"/>
<line x1="749.6" y1="398.75" x2="749.6" y2="401.75" stroke="#222" stroke-width="0.9"/>
<line x1="765.6" y1="398.75" x2="765.6" y2="401.75" stroke="#222" stroke-width="0.9"/>
<line x1="753.9" y1="244.4" x2="756.9" y2="244.4" stroke="#222" stroke-width="0.9"/>
<line x1="753.9" y1="418.4" x2="756.9" y2="418.4" stroke="#222" stroke-width="0.9"/>
<line x1="758.3" y1="244.4" x2="761.3" y2="244.4" stroke="#222" stroke-width="0.9"/>
<line x1="758.3" y1="418.4" x2="761.3" y2="418.4" stroke="#222" stroke-width="0.9"/>
<text transform="translate(757.4,427.6)" font-size="10" text-anchor="middle" font-weight="normal" fill="#000">CN5</text>
<circle cx="757.6" cy="437.5" r="6.5" fill="#000"/>
<circle cx="757.6" cy="454.75" r="6.5" fill="#000"/>
<circle cx="757.6" cy="472" r="6.5" fill="#000"/>
<circle cx="757.6" cy="489.25" r="6.5" fill="#000"/>
<circle cx="757.6" cy="506.5" r="6.5" fill="#000"/>
<circle cx="757.6" cy="523.75" r="6.5" fill="#000"/>
<circle cx="757.6" cy="541" r="6.5" fill="#000"/>
<rect x="751.2" y="551.85" width="12.8" height="12.8" fill="#000" />
<line x1="749.3" y1="433.25" x2="749.3" y2="436.25" stroke="#222" stroke-width="0.9"/>
<line x1="765.8" y1="433.25" x2="765.8" y2="436.25" stroke="#222" stroke-width="0.9"/>
<line x1="749.3" y1="450.5" x2="749.3" y2="453.5" stroke="#222" stroke-width="0.9"/>
<line x1="765.8" y1="450.5" x2="765.8" y2="453.5" stroke="#222" stroke-width="0.9"/>
<line x1="749.3" y1="467.75" x2="749.3" y2="470.75" stroke="#222" stroke-width="0.9"/>
<line x1="765.8" y1="467.75" x2="765.8" y2="470.75" stroke="#222" stroke-width="0.9"/>
<line x1="749.3" y1="485" x2="749.3" y2="488" stroke="#222" stroke-width="0.9"/>
<line x1="765.8" y1="485" x2="765.8" y2="488" stroke="#222" stroke-width="0.9"/>
<line x1="749.3" y1="502.25" x2="749.3" y2="505.25" stroke="#222" stroke-width="0.9"/>
<line x1="765.8" y1="502.25" x2="765.8" y2="505.25" stroke="#222" stroke-width="0.9"/>
<line x1="749.3" y1="519.5" x2="749.3" y2="522.5" stroke="#222" stroke-width="0.9"/>
<line x1="765.8" y1="519.5" x2="765.8" y2="522.5" stroke="#222" stroke-width="0.9"/>
<line x1="749.3" y1="536.75" x2="749.3" y2="539.75" stroke="#222" stroke-width="0.9"/>
<line x1="765.8" y1="536.75" x2="765.8" y2="539.75" stroke="#222" stroke-width="0.9"/>
<line x1="749.3" y1="554" x2="749.3" y2="557" stroke="#222" stroke-width="0.9"/>
<line x1="765.8" y1="554" x2="765.8" y2="557" stroke="#222" stroke-width="0.9"/>
<line x1="753.6" y1="429" x2="756.6" y2="429" stroke="#222" stroke-width="0.9"/>
<line x1="753.6" y1="567.6" x2="756.6" y2="567.6" stroke="#222" stroke-width="0.9"/>
<line x1="758.5" y1="429" x2="761.5" y2="429" stroke="#222" stroke-width="0.9"/>
<line x1="758.5" y1="567.6" x2="761.5" y2="567.6" stroke="#222" stroke-width="0.9"/>
<text transform="translate(757.4,576.6)" font-size="10" text-anchor="middle" font-weight="normal" fill="#000">CN9</text>
<circle cx="869.5" cy="282.2" r="6.5" fill="#000"/>
<circle cx="852.4" cy="282.2" r="6.5" fill="#000"/>
<circle cx="834.8" cy="282.2" r="6.5" fill="#000"/>
<rect x="812" y="275.8" width="12.8" height="12.8" fill="#000" />
<circle cx="869.5" cy="299.7" r="6.5" fill="#000"/>
<circle cx="852.4" cy="299.7" r="6.5" fill="#000"/>
<circle cx="834.8" cy="299.7" r="6.5" fill="#000"/>
<circle cx="818.4" cy="299.7" r="6.5" fill="#000"/>
<line x1="809" y1="278" x2="809" y2="281" stroke="#222" stroke-width="0.9"/>
<line x1="878" y1="278" x2="878" y2="281" stroke="#222" stroke-width="0.9"/>
<line x1="809" y1="295.25" x2="809" y2="298.25" stroke="#222" stroke-width="0.9"/>
<line x1="878" y1="295.25" x2="878" y2="298.25" stroke="#222" stroke-width="0.9"/>
<line x1="813.3" y1="273.5" x2="816.3" y2="273.5" stroke="#222" stroke-width="0.9"/>
<line x1="813.3" y1="308.5" x2="816.3" y2="308.5" stroke="#222" stroke-width="0.9"/>
<line x1="822.87" y1="273.5" x2="825.87" y2="273.5" stroke="#222" stroke-width="0.9"/>
<line x1="822.87" y1="308.5" x2="825.87" y2="308.5" stroke="#222" stroke-width="0.9"/>
<line x1="832.43" y1="273.5" x2="835.43" y2="273.5" stroke="#222" stroke-width="0.9"/>
<line x1="832.43" y1="308.5" x2="835.43" y2="308.5" stroke="#222" stroke-width="0.9"/>
<line x1="842" y1="273.5" x2="845" y2="273.5" stroke="#222" stroke-width="0.9"/>
<line x1="842" y1="308.5" x2="845" y2="308.5" stroke="#222" stroke-width="0.9"/>
<line x1="851.57" y1="273.5" x2="854.57" y2="273.5" stroke="#222" stroke-width="0.9"/>
<line x1="851.57" y1="308.5" x2="854.57" y2="308.5" stroke="#222" stroke-width="0.9"/>
<line x1="861.13" y1="273.5" x2="864.13" y2="273.5" stroke="#222" stroke-width="0.9"/>
<line x1="861.13" y1="308.5" x2="864.13" y2="308.5" stroke="#222" stroke-width="0.9"/>
<line x1="870.7" y1="273.5" x2="873.7" y2="273.5" stroke="#222" stroke-width="0.9"/>
<line x1="870.7" y1="308.5" x2="873.7" y2="308.5" stroke="#222" stroke-width="0.9"/>
<text transform="translate(881,295.6)" font-size="10.5" text-anchor="start" font-weight="normal" fill="#000">JP2</text>
<text transform="translate(822.4,272) rotate(-90)" font-size="9.5" text-anchor="start" font-weight="normal" fill="#000">STLK</text>
<text transform="translate(839.2,272) rotate(-90)" font-size="9.5" text-anchor="start" font-weight="normal" fill="#000">VIN</text>
<text transform="translate(856.4,272) rotate(-90)" font-size="9.5" text-anchor="start" font-weight="normal" fill="#000">E5V</text>
<text transform="translate(873.5,272) rotate(-90)" font-size="9.5" text-anchor="start" font-weight="normal" fill="#000">CHG</text>
<circle cx="917.2" cy="304.4" r="6.5" fill="#000"/>
<rect x="928.2" y="298" width="12.8" height="12.8" fill="#000" />
<line x1="908" y1="295.25" x2="908" y2="298.25" stroke="#222" stroke-width="0.9"/>
<line x1="943.5" y1="295.25" x2="943.5" y2="298.25" stroke="#222" stroke-width="0.9"/>
<line x1="912.3" y1="295.5" x2="915.3" y2="295.5" stroke="#222" stroke-width="0.9"/>
<line x1="912.3" y1="313.5" x2="915.3" y2="313.5" stroke="#222" stroke-width="0.9"/>
<line x1="920.27" y1="295.5" x2="923.27" y2="295.5" stroke="#222" stroke-width="0.9"/>
<line x1="920.27" y1="313.5" x2="923.27" y2="313.5" stroke="#222" stroke-width="0.9"/>
<line x1="928.23" y1="295.5" x2="931.23" y2="295.5" stroke="#222" stroke-width="0.9"/>
<line x1="928.23" y1="313.5" x2="931.23" y2="313.5" stroke="#222" stroke-width="0.9"/>
<line x1="936.2" y1="295.5" x2="939.2" y2="295.5" stroke="#222" stroke-width="0.9"/>
<line x1="936.2" y1="313.5" x2="939.2" y2="313.5" stroke="#222" stroke-width="0.9"/>
<text transform="translate(915,293)" font-size="10.5" text-anchor="start" font-weight="normal" fill="#000">JP3</text>
<rect x="823.5" y="481.5" width="170" height="62" fill="none" stroke="#111" stroke-width="1.05" rx="0"/>
<circle cx="900.8" cy="425.6" r="1.3" fill="#000"/>
<circle cx="943.2" cy="425.6" r="1.3" fill="#000"/>
<rect x="976.9" y="313.8" width="61.3" height="37.2" fill="none" stroke="#000" stroke-width="3.6"/>
<text transform="translate(1007.5,329.6)" font-size="16.5" text-anchor="middle" font-weight="bold" fill="#000">RoHS</text>
<text x="1007.8" y="339" font-family="Liberation Mono" style="font-family:Liberation Mono,monospace" font-size="9.4" font-weight="bold" text-anchor="middle" textLength="47.6" lengthAdjust="spacingAndGlyphs">COMPLIANT</text>
<text x="1007.8" y="347.8" style="font-family:Liberation Mono,monospace" font-size="9.4" font-weight="bold" text-anchor="middle" textLength="54" lengthAdjust="spacingAndGlyphs">2002/95/EC</text>
<circle cx="706" cy="58.4" r="6.3" fill="#000"/>
<rect x="699.5" y="69" width="13" height="13" fill="#000" />
<line x1="696.6" y1="53.75" x2="696.6" y2="56.75" stroke="#222" stroke-width="0.9"/>
<line x1="714" y1="53.75" x2="714" y2="56.75" stroke="#222" stroke-width="0.9"/>
<line x1="696.6" y1="71" x2="696.6" y2="74" stroke="#222" stroke-width="0.9"/>
<line x1="714" y1="71" x2="714" y2="74" stroke="#222" stroke-width="0.9"/>
<line x1="700.9" y1="49.6" x2="703.9" y2="49.6" stroke="#222" stroke-width="0.9"/>
<line x1="700.9" y1="84" x2="703.9" y2="84" stroke="#222" stroke-width="0.9"/>
<line x1="706.7" y1="49.6" x2="709.7" y2="49.6" stroke="#222" stroke-width="0.9"/>
<line x1="706.7" y1="84" x2="709.7" y2="84" stroke="#222" stroke-width="0.9"/>
<text transform="translate(695,94)" font-size="11" text-anchor="start" font-weight="normal" fill="#000">JP5</text>
<rect x="811.4" y="36" width="8" height="13" rx="4" fill="#000"/>
<rect x="859" y="36" width="8" height="13" rx="4" fill="#000"/>
<circle cx="823" cy="60.4" r="5.4" fill="#000"/>
<circle cx="857" cy="60.4" r="5.4" fill="#000"/>
<line x1="804" y1="38.5" x2="804" y2="41.5" stroke="#222" stroke-width="0.9"/>
<line x1="874.4" y1="38.5" x2="874.4" y2="41.5" stroke="#222" stroke-width="0.9"/>
<line x1="804" y1="48.5" x2="804" y2="51.5" stroke="#222" stroke-width="0.9"/>
<line x1="874.4" y1="48.5" x2="874.4" y2="51.5" stroke="#222" stroke-width="0.9"/>
<line x1="804" y1="58.5" x2="804" y2="61.5" stroke="#222" stroke-width="0.9"/>
<line x1="874.4" y1="58.5" x2="874.4" y2="61.5" stroke="#222" stroke-width="0.9"/>
<line x1="810.5" y1="68" x2="813.5" y2="68" stroke="#222" stroke-width="0.9"/>
<line x1="826.5" y1="68" x2="829.5" y2="68" stroke="#222" stroke-width="0.9"/>
<line x1="843.5" y1="68" x2="846.5" y2="68" stroke="#222" stroke-width="0.9"/>
<line x1="860.5" y1="68" x2="863.5" y2="68" stroke="#222" stroke-width="0.9"/>
<text transform="translate(835.6,79.6)" font-size="10.5" text-anchor="start" font-weight="normal" fill="#000">CN2</text>
<rect x="911" y="43" width="13" height="13" fill="#000" />
<circle cx="934.4" cy="49.6" r="6.4" fill="#000"/>
<line x1="908" y1="53.75" x2="908" y2="56.75" stroke="#222" stroke-width="0.9"/>
<line x1="940" y1="53.75" x2="940" y2="56.75" stroke="#222" stroke-width="0.9"/>
<line x1="912.3" y1="40" x2="915.3" y2="40" stroke="#222" stroke-width="0.9"/>
<line x1="912.3" y1="58.4" x2="915.3" y2="58.4" stroke="#222" stroke-width="0.9"/>
<line x1="919.1" y1="40" x2="922.1" y2="40" stroke="#222" stroke-width="0.9"/>
<line x1="919.1" y1="58.4" x2="922.1" y2="58.4" stroke="#222" stroke-width="0.9"/>
<line x1="925.9" y1="40" x2="928.9" y2="40" stroke="#222" stroke-width="0.9"/>
<line x1="925.9" y1="58.4" x2="928.9" y2="58.4" stroke="#222" stroke-width="0.9"/>
<line x1="932.7" y1="40" x2="935.7" y2="40" stroke="#222" stroke-width="0.9"/>
<line x1="932.7" y1="58.4" x2="935.7" y2="58.4" stroke="#222" stroke-width="0.9"/>
<text transform="translate(887,54.4)" font-size="10.5" text-anchor="start" font-weight="normal" fill="#000" textLength="15.5" lengthAdjust="spacingAndGlyphs">JP1</text>
<rect x="972.5" y="40.5" width="23" height="70" fill="none" stroke="#222" stroke-width="1.05" rx="0"/>
<rect x="1024.5" y="40.5" width="22" height="70" fill="none" stroke="#222" stroke-width="1.05" rx="0"/>
<path d="M975.3,45.9 L982.3,45.9 L985.42,49.6 L982.3,53.3 L975.3,53.3 Z" fill="#5a5a5a" stroke="none" stroke-width="1" />
<path d="M984.25,45.9 L993.2,45.9 L993.2,53.3 L984.25,53.3 L986.59,49.6 Z" fill="#5a5a5a" stroke="none" stroke-width="1" />
<rect x="974.5" y="45.1" width="1.3" height="9" fill="#111" />
<rect x="992.7" y="45.1" width="1.3" height="9" fill="#111" />
<path d="M1026.3,45.9 L1033.3,45.9 L1036.42,49.6 L1033.3,53.3 L1026.3,53.3 Z" fill="#5a5a5a" stroke="none" stroke-width="1" />
<path d="M1035.25,45.9 L1044.2,45.9 L1044.2,53.3 L1035.25,53.3 L1037.59,49.6 Z" fill="#5a5a5a" stroke="none" stroke-width="1" />
<rect x="1025.5" y="45.1" width="1.3" height="9" fill="#111" />
<rect x="1043.7" y="45.1" width="1.3" height="9" fill="#111" />
<text transform="translate(944,54.6)" font-size="10.5" text-anchor="start" font-weight="normal" fill="#000" textLength="20" lengthAdjust="spacingAndGlyphs">SB7</text>
<text transform="translate(1049,54.6)" font-size="10.5" text-anchor="start" font-weight="normal" fill="#000" textLength="20" lengthAdjust="spacingAndGlyphs">SB6</text>
<rect x="1002.5" y="44.1" width="11" height="11" fill="#000" />
<path d="M975.3,63.23 L982.3,63.23 L985.42,66.93 L982.3,70.63 L975.3,70.63 Z" fill="#5a5a5a" stroke="none" stroke-width="1" />
<path d="M984.25,63.23 L993.2,63.23 L993.2,70.63 L984.25,70.63 L986.59,66.93 Z" fill="#5a5a5a" stroke="none" stroke-width="1" />
<rect x="974.5" y="62.43" width="1.3" height="9" fill="#111" />
<rect x="992.7" y="62.43" width="1.3" height="9" fill="#111" />
<path d="M1026.3,63.23 L1033.3,63.23 L1036.42,66.93 L1033.3,70.63 L1026.3,70.63 Z" fill="#5a5a5a" stroke="none" stroke-width="1" />
<path d="M1035.25,63.23 L1044.2,63.23 L1044.2,70.63 L1035.25,70.63 L1037.59,66.93 Z" fill="#5a5a5a" stroke="none" stroke-width="1" />
<rect x="1025.5" y="62.43" width="1.3" height="9" fill="#111" />
<rect x="1043.7" y="62.43" width="1.3" height="9" fill="#111" />
<text transform="translate(944,71.93)" font-size="10.5" text-anchor="start" font-weight="normal" fill="#000" textLength="20" lengthAdjust="spacingAndGlyphs">SB9</text>
<text transform="translate(1049,71.93)" font-size="10.5" text-anchor="start" font-weight="normal" fill="#000" textLength="20" lengthAdjust="spacingAndGlyphs">SB8</text>
<circle cx="1008" cy="66.93" r="5.7" fill="#000"/>
<path d="M975.3,80.56 L982.3,80.56 L985.42,84.26 L982.3,87.96 L975.3,87.96 Z" fill="#5a5a5a" stroke="none" stroke-width="1" />
<path d="M984.25,80.56 L993.2,80.56 L993.2,87.96 L984.25,87.96 L986.59,84.26 Z" fill="#5a5a5a" stroke="none" stroke-width="1" />
<rect x="974.5" y="79.76" width="1.3" height="9" fill="#111" />
<rect x="992.7" y="79.76" width="1.3" height="9" fill="#111" />
<path d="M1026.3,80.56 L1033.3,80.56 L1036.42,84.26 L1033.3,87.96 L1026.3,87.96 Z" fill="#5a5a5a" stroke="none" stroke-width="1" />
<path d="M1035.25,80.56 L1044.2,80.56 L1044.2,87.96 L1035.25,87.96 L1037.59,84.26 Z" fill="#5a5a5a" stroke="none" stroke-width="1" />
<rect x="1025.5" y="79.76" width="1.3" height="9" fill="#111" />
<rect x="1043.7" y="79.76" width="1.3" height="9" fill="#111" />
<text transform="translate(944,89.26)" font-size="10.5" text-anchor="start" font-weight="normal" fill="#000" textLength="23.6" lengthAdjust="spacingAndGlyphs">SB11</text>
<text transform="translate(1049,89.26)" font-size="10.5" text-anchor="start" font-weight="normal" fill="#000" textLength="26" lengthAdjust="spacingAndGlyphs">SB10</text>
<circle cx="1008" cy="84.26" r="5.7" fill="#000"/>
<path d="M975.3,97.89 L982.3,97.89 L985.42,101.59 L982.3,105.29 L975.3,105.29 Z" fill="#5a5a5a" stroke="none" stroke-width="1" />
<path d="M984.25,97.89 L993.2,97.89 L993.2,105.29 L984.25,105.29 L986.59,101.59 Z" fill="#5a5a5a" stroke="none" stroke-width="1" />
<rect x="974.5" y="97.09" width="1.3" height="9" fill="#111" />
<rect x="992.7" y="97.09" width="1.3" height="9" fill="#111" />
<path d="M1026.3,97.89 L1033.3,97.89 L1036.42,101.59 L1033.3,105.29 L1026.3,105.29 Z" fill="#5a5a5a" stroke="none" stroke-width="1" />
<path d="M1035.25,97.89 L1044.2,97.89 L1044.2,105.29 L1035.25,105.29 L1037.59,101.59 Z" fill="#5a5a5a" stroke="none" stroke-width="1" />
<rect x="1025.5" y="97.09" width="1.3" height="9" fill="#111" />
<rect x="1043.7" y="97.09" width="1.3" height="9" fill="#111" />
<text transform="translate(944,106.59)" font-size="10.5" text-anchor="start" font-weight="normal" fill="#000" textLength="26" lengthAdjust="spacingAndGlyphs">SB13</text>
<text transform="translate(1049,106.59)" font-size="10.5" text-anchor="start" font-weight="normal" fill="#000" textLength="26" lengthAdjust="spacingAndGlyphs">SB12</text>
<circle cx="1008" cy="101.59" r="5.7" fill="#000"/>
<line x1="999" y1="53.75" x2="999" y2="56.75" stroke="#222" stroke-width="0.9"/>
<line x1="1017" y1="53.75" x2="1017" y2="56.75" stroke="#222" stroke-width="0.9"/>
<line x1="999" y1="71" x2="999" y2="74" stroke="#222" stroke-width="0.9"/>
<line x1="1017" y1="71" x2="1017" y2="74" stroke="#222" stroke-width="0.9"/>
<line x1="999" y1="88.25" x2="999" y2="91.25" stroke="#222" stroke-width="0.9"/>
<line x1="1017" y1="88.25" x2="1017" y2="91.25" stroke="#222" stroke-width="0.9"/>
<line x1="999" y1="105.5" x2="999" y2="108.5" stroke="#222" stroke-width="0.9"/>
<line x1="1017" y1="105.5" x2="1017" y2="108.5" stroke="#222" stroke-width="0.9"/>
<line x1="1003.3" y1="40" x2="1006.3" y2="40" stroke="#222" stroke-width="0.9"/>
<line x1="1003.3" y1="111" x2="1006.3" y2="111" stroke="#222" stroke-width="0.9"/>
<line x1="1006.5" y1="40" x2="1009.5" y2="40" stroke="#222" stroke-width="0.9"/>
<line x1="1006.5" y1="111" x2="1009.5" y2="111" stroke="#222" stroke-width="0.9"/>
<line x1="1009.7" y1="40" x2="1012.7" y2="40" stroke="#222" stroke-width="0.9"/>
<line x1="1009.7" y1="111" x2="1012.7" y2="111" stroke="#222" stroke-width="0.9"/>
<text transform="translate(950,122)" font-size="10" text-anchor="start" font-weight="normal" fill="#000" textLength="40" lengthAdjust="spacingAndGlyphs">DEFAULT</text>
<text transform="translate(1000,122)" font-size="10.5" text-anchor="start" font-weight="normal" fill="#000" textLength="18" lengthAdjust="spacingAndGlyphs">CN4</text>
<text transform="translate(1026,122) scale(0.92,1)" font-size="10" text-anchor="start" font-weight="normal" fill="#000">RESERVED</text>
<circle cx="1137.6" cy="58.4" r="6.3" fill="#000"/>
<rect x="1131" y="69" width="13" height="13" fill="#000" />
<line x1="1128.6" y1="53.75" x2="1128.6" y2="56.75" stroke="#222" stroke-width="0.9"/>
<line x1="1146" y1="53.75" x2="1146" y2="56.75" stroke="#222" stroke-width="0.9"/>
<line x1="1128.6" y1="71" x2="1128.6" y2="74" stroke="#222" stroke-width="0.9"/>
<line x1="1146" y1="71" x2="1146" y2="74" stroke="#222" stroke-width="0.9"/>
<line x1="1132.9" y1="49.6" x2="1135.9" y2="49.6" stroke="#222" stroke-width="0.9"/>
<line x1="1132.9" y1="84" x2="1135.9" y2="84" stroke="#222" stroke-width="0.9"/>
<line x1="1138.7" y1="49.6" x2="1141.7" y2="49.6" stroke="#222" stroke-width="0.9"/>
<line x1="1138.7" y1="84" x2="1141.7" y2="84" stroke="#222" stroke-width="0.9"/>
<text transform="translate(1127,94)" font-size="11" text-anchor="start" font-weight="normal" fill="#000">JP4</text>
<rect x="1097.5" y="87" width="11" height="11" fill="#000" />
<circle cx="1103" cy="109.6" r="6.1" fill="#000"/>
<circle cx="1103" cy="126.6" r="6.1" fill="#000"/>
<circle cx="1103" cy="144" r="6.1" fill="#000"/>
<circle cx="1103" cy="161.4" r="6.1" fill="#000"/>
<circle cx="1103" cy="179" r="6.1" fill="#000"/>
<line x1="1094" y1="88.25" x2="1094" y2="91.25" stroke="#222" stroke-width="0.9"/>
<line x1="1112" y1="88.25" x2="1112" y2="91.25" stroke="#222" stroke-width="0.9"/>
<line x1="1094" y1="105.5" x2="1094" y2="108.5" stroke="#222" stroke-width="0.9"/>
<line x1="1112" y1="105.5" x2="1112" y2="108.5" stroke="#222" stroke-width="0.9"/>
<line x1="1094" y1="122.75" x2="1094" y2="125.75" stroke="#222" stroke-width="0.9"/>
<line x1="1112" y1="122.75" x2="1112" y2="125.75" stroke="#222" stroke-width="0.9"/>
<line x1="1094" y1="140" x2="1094" y2="143" stroke="#222" stroke-width="0.9"/>
<line x1="1112" y1="140" x2="1112" y2="143" stroke="#222" stroke-width="0.9"/>
<line x1="1094" y1="157.25" x2="1094" y2="160.25" stroke="#222" stroke-width="0.9"/>
<line x1="1112" y1="157.25" x2="1112" y2="160.25" stroke="#222" stroke-width="0.9"/>
<line x1="1094" y1="174.5" x2="1094" y2="177.5" stroke="#222" stroke-width="0.9"/>
<line x1="1112" y1="174.5" x2="1112" y2="177.5" stroke="#222" stroke-width="0.9"/>
<line x1="1098.3" y1="84" x2="1101.3" y2="84" stroke="#222" stroke-width="0.9"/>
<line x1="1098.3" y1="188" x2="1101.3" y2="188" stroke="#222" stroke-width="0.9"/>
<line x1="1101.5" y1="84" x2="1104.5" y2="84" stroke="#222" stroke-width="0.9"/>
<line x1="1101.5" y1="188" x2="1104.5" y2="188" stroke="#222" stroke-width="0.9"/>
<line x1="1104.7" y1="84" x2="1107.7" y2="84" stroke="#222" stroke-width="0.9"/>
<line x1="1104.7" y1="188" x2="1107.7" y2="188" stroke="#222" stroke-width="0.9"/>
<text transform="translate(1121,131.5) rotate(90)" font-size="9.5" text-anchor="middle" font-weight="normal" fill="#000">SWD</text>
<text transform="translate(1138.4,180) rotate(180)" font-size="11" text-anchor="start" font-weight="normal" fill="#000" textLength="21.6" lengthAdjust="spacingAndGlyphs">CN11</text>
<circle cx="1068.6" cy="161.6" r="6.4" fill="#000"/>
<rect x="1062" y="173" width="13" height="13" fill="#000" />
<line x1="1059" y1="157.25" x2="1059" y2="160.25" stroke="#222" stroke-width="0.9"/>
<line x1="1078" y1="157.25" x2="1078" y2="160.25" stroke="#222" stroke-width="0.9"/>
<line x1="1059" y1="174.5" x2="1059" y2="177.5" stroke="#222" stroke-width="0.9"/>
<line x1="1078" y1="174.5" x2="1078" y2="177.5" stroke="#222" stroke-width="0.9"/>
<line x1="1063.3" y1="152" x2="1066.3" y2="152" stroke="#222" stroke-width="0.9"/>
<line x1="1063.3" y1="186" x2="1066.3" y2="186" stroke="#222" stroke-width="0.9"/>
<line x1="1067" y1="152" x2="1070" y2="152" stroke="#222" stroke-width="0.9"/>
<line x1="1067" y1="186" x2="1070" y2="186" stroke="#222" stroke-width="0.9"/>
<line x1="1070.7" y1="152" x2="1073.7" y2="152" stroke="#222" stroke-width="0.9"/>
<line x1="1070.7" y1="186" x2="1073.7" y2="186" stroke="#222" stroke-width="0.9"/>
<text transform="translate(1058,197)" font-size="10.5" text-anchor="start" font-weight="normal" fill="#000">JP6</text>
<text transform="translate(1079,166)" font-size="10.5" text-anchor="start" font-weight="normal" fill="#000">TX</text>
<text transform="translate(1079,182)" font-size="10.5" text-anchor="start" font-weight="normal" fill="#000">RX</text>
<path d="M1031.8,158.8 L1038.6,158.8 L1041.64,162 L1038.6,165.2 L1031.8,165.2 Z" fill="#5a5a5a" stroke="none" stroke-width="1" />
<path d="M1040.5,158.8 L1049.2,158.8 L1049.2,165.2 L1040.5,165.2 L1042.78,162 Z" fill="#5a5a5a" stroke="none" stroke-width="1" />
<rect x="1031" y="158" width="1.3" height="8" fill="#111" />
<rect x="1048.7" y="158" width="1.3" height="8" fill="#111" />
<text transform="translate(1000,165)" font-size="10.5" text-anchor="start" font-weight="normal" fill="#000">SB16</text>
<path d="M1031.8,176.4 L1038.6,176.4 L1041.64,179.6 L1038.6,182.8 L1031.8,182.8 Z" fill="#5a5a5a" stroke="none" stroke-width="1" />
<path d="M1040.5,176.4 L1049.2,176.4 L1049.2,182.8 L1040.5,182.8 L1042.78,179.6 Z" fill="#5a5a5a" stroke="none" stroke-width="1" />
<rect x="1031" y="175.6" width="1.3" height="8" fill="#111" />
<rect x="1048.7" y="175.6" width="1.3" height="8" fill="#111" />
<text transform="translate(1000,183)" font-size="10.5" text-anchor="start" font-weight="normal" fill="#000">SB18</text>
<path d="M884.2,132.8 L877.4,132.8 L874.36,136 L877.4,139.2 L884.2,139.2 Z" fill="#5a5a5a" stroke="none" stroke-width="1" />
<path d="M875.5,132.8 L866.8,132.8 L866.8,139.2 L875.5,139.2 L873.22,136 Z" fill="#5a5a5a" stroke="none" stroke-width="1" />
<rect x="866" y="132" width="1.3" height="8" fill="#111" />
<rect x="883.7" y="132" width="1.3" height="8" fill="#111" />
<text transform="translate(837,139)" font-size="10.5" text-anchor="start" font-weight="normal" fill="#000">SB14</text>
<path d="M866.8,155.2 L873.6,155.2 L876.64,158.4 L873.6,161.6 L866.8,161.6 Z" fill="#5a5a5a" stroke="none" stroke-width="1" />
<path d="M875.5,155.2 L884.2,155.2 L884.2,161.6 L875.5,161.6 L877.78,158.4 Z" fill="#5a5a5a" stroke="none" stroke-width="1" />
<rect x="866" y="154.4" width="1.3" height="8" fill="#111" />
<rect x="883.7" y="154.4" width="1.3" height="8" fill="#111" />
<text transform="translate(837,161.5)" font-size="10.5" text-anchor="start" font-weight="normal" fill="#000">SB17</text>
<text transform="translate(886.4,161.5)" font-size="10.5" text-anchor="start" font-weight="normal" fill="#000">MCO</text>
<rect x="928" y="125" width="15" height="8" fill="#555" />
<rect x="932.5" y="126.5" width="6" height="5" fill="#fff" />
<rect x="934.7" y="128.2" width="1.6" height="1.6" fill="#000" />
<text transform="translate(947,132.6)" font-size="10.5" text-anchor="start" font-weight="normal" fill="#000">C27</text>
<path d="M919.2,175.8 L926.2,175.8 L926.2,182.2 L922.7,185.08 L919.2,182.2 Z" fill="#5a5a5a" stroke="none" stroke-width="1" />
<path d="M919.2,184 L922.7,186.16 L926.2,184 L926.2,192.2 L919.2,192.2 Z" fill="#5a5a5a" stroke="none" stroke-width="1" />
<rect x="918.4" y="175" width="8.6" height="1.3" fill="#111" />
<rect x="918.4" y="191.7" width="8.6" height="1.3" fill="#111" />
<text transform="translate(911,171.6)" font-size="10.5" text-anchor="start" font-weight="normal" fill="#000">SB19</text>
<rect x="908.4" y="213" width="8.6" height="15" fill="#555" />
<rect x="909.9" y="217.5" width="5.6" height="6" fill="#fff" />
<rect x="911.9" y="219.7" width="1.6" height="1.6" fill="#000" />
<text transform="translate(917,250) rotate(-90)" font-size="10.5" text-anchor="start" font-weight="normal" fill="#000">C28</text>
<path d="M920.4,232.8 L927.6,232.8 L927.6,239.2 L924,242.08 L920.4,239.2 Z" fill="#5a5a5a" stroke="none" stroke-width="1" />
<path d="M920.4,241 L924,243.16 L927.6,241 L927.6,249.2 L920.4,249.2 Z" fill="#5a5a5a" stroke="none" stroke-width="1" />
<rect x="919.6" y="232" width="8.8" height="1.3" fill="#111" />
<rect x="919.6" y="248.7" width="8.8" height="1.3" fill="#111" />
<text transform="translate(930,227) rotate(90)" font-size="10.5" text-anchor="start" font-weight="normal" fill="#000">SB20</text>
<path d="M774.4,276.4 L780.8,276.4 L780.8,282.56 L777.6,285.34 L774.4,282.56 Z" fill="#5a5a5a" stroke="none" stroke-width="1" />
<path d="M774.4,284.3 L777.6,286.39 L780.8,284.3 L780.8,292.2 L774.4,292.2 Z" fill="#5a5a5a" stroke="none" stroke-width="1" />
<rect x="773.6" y="275.6" width="8" height="1.3" fill="#111" />
<rect x="773.6" y="291.7" width="8" height="1.3" fill="#111" />
<text transform="translate(782,273) rotate(-90)" font-size="10.5" text-anchor="start" font-weight="normal" fill="#000">SB21</text>
<rect x="784.4" y="278" width="8" height="14" fill="#555" />
<rect x="785.9" y="282.2" width="5" height="5.6" fill="#fff" />
<rect x="787.6" y="284.2" width="1.6" height="1.6" fill="#000" />
<text transform="translate(792.5,275) rotate(-90)" font-size="10.5" text-anchor="start" font-weight="normal" fill="#000">C29</text>
<rect x="784.4" y="301" width="8.6" height="15" fill="#5a5a5a" />
<rect x="785.8" y="305.5" width="5.8" height="5.5" fill="#fff" />
<text transform="translate(802.5,317) rotate(-90)" font-size="10.5" text-anchor="start" font-weight="normal" fill="#000">R35</text>
<path d="M774.8,317.8 L781.2,317.8 L781.2,323.96 L778,326.74 L774.8,323.96 Z" fill="#5a5a5a" stroke="none" stroke-width="1" />
<path d="M774.8,325.7 L778,327.79 L781.2,325.7 L781.2,333.6 L774.8,333.6 Z" fill="#5a5a5a" stroke="none" stroke-width="1" />
<rect x="774" y="317" width="8" height="1.3" fill="#111" />
<rect x="774" y="333.1" width="8" height="1.3" fill="#111" />
<text transform="translate(781.5,363) rotate(-90)" font-size="10.5" text-anchor="start" font-weight="normal" fill="#000">SB22</text>
<rect x="785" y="319" width="9.4" height="7" fill="#5a5a5a" />
<rect x="785" y="332" width="9.4" height="7" fill="#5a5a5a" />
<rect x="800" y="326" width="9.6" height="7" fill="#5a5a5a" />
<path d="M794.4,317 L803,317 L803,326 M803,333 L803,340 L794.4,340" fill="none" stroke="#666" stroke-width="1" />
<line x1="792" y1="326" x2="792" y2="332" stroke="#333" stroke-width="1"/>
<text transform="translate(789,351)" font-size="10.5" text-anchor="start" font-weight="normal" fill="#000">T2</text>
<path d="M925.3,402.8 L931.7,402.8 L931.7,408.88 L928.5,411.63 L925.3,408.88 Z" fill="#5a5a5a" stroke="none" stroke-width="1" />
<path d="M925.3,410.6 L928.5,412.66 L931.7,410.6 L931.7,418.4 L925.3,418.4 Z" fill="#5a5a5a" stroke="none" stroke-width="1" />
<rect x="924.5" y="402" width="8" height="1.3" fill="#111" />
<rect x="924.5" y="417.9" width="8" height="1.3" fill="#111" />
<text transform="translate(932.2,398.4) rotate(-90)" font-size="10.5" text-anchor="start" font-weight="normal" fill="#000">SB26</text>
<rect x="934.7" y="404.5" width="7.7" height="14" fill="#555" />
<rect x="936.2" y="408.7" width="4.7" height="5.6" fill="#fff" />
<rect x="937.75" y="410.7" width="1.6" height="1.6" fill="#000" />
<text transform="translate(942.6,398.4) rotate(-90)" font-size="10.5" text-anchor="start" font-weight="normal" fill="#000">C30</text>
<path d="M948.3,390.4 L954.7,390.4 L954.7,396.64 L951.5,399.46 L948.3,396.64 Z" fill="#5a5a5a" stroke="none" stroke-width="1" />
<path d="M948.3,398.4 L951.5,400.51 L954.7,398.4 L954.7,406.4 L948.3,406.4 Z" fill="#5a5a5a" stroke="none" stroke-width="1" />
<rect x="947.5" y="389.6" width="8" height="1.3" fill="#111" />
<rect x="947.5" y="405.9" width="8" height="1.3" fill="#111" />
<text transform="translate(955.5,387.2) rotate(-90)" font-size="10.5" text-anchor="start" font-weight="normal" fill="#000">SB23</text>
<path d="M955.2,413.3 L961.64,413.3 L964.54,416.5 L961.64,419.7 L955.2,419.7 Z" fill="#5a5a5a" stroke="none" stroke-width="1" />
<path d="M963.45,413.3 L971.7,413.3 L971.7,419.7 L963.45,419.7 L965.62,416.5 Z" fill="#5a5a5a" stroke="none" stroke-width="1" />
<rect x="954.4" y="412.5" width="1.3" height="8" fill="#111" />
<rect x="971.2" y="412.5" width="1.3" height="8" fill="#111" />
<text transform="translate(976.8,420.5)" font-size="10.5" text-anchor="start" font-weight="normal" fill="#000">SB24</text>
<path d="M955.2,424 L961.64,424 L964.54,427.2 L961.64,430.4 L955.2,430.4 Z" fill="#5a5a5a" stroke="none" stroke-width="1" />
<path d="M963.45,424 L971.7,424 L971.7,430.4 L963.45,430.4 L965.62,427.2 Z" fill="#5a5a5a" stroke="none" stroke-width="1" />
<rect x="954.4" y="423.2" width="1.3" height="8" fill="#111" />
<rect x="971.2" y="423.2" width="1.3" height="8" fill="#111" />
<text transform="translate(976.8,431.2)" font-size="10.5" text-anchor="start" font-weight="normal" fill="#000">SB25</text>
<path d="M955.2,434.4 L961.64,434.4 L964.54,437.6 L961.64,440.8 L955.2,440.8 Z" fill="#5a5a5a" stroke="none" stroke-width="1" />
<path d="M963.45,434.4 L971.7,434.4 L971.7,440.8 L963.45,440.8 L965.62,437.6 Z" fill="#5a5a5a" stroke="none" stroke-width="1" />
<rect x="954.4" y="433.6" width="1.3" height="8" fill="#111" />
<rect x="971.2" y="433.6" width="1.3" height="8" fill="#111" />
<text transform="translate(976.8,441.6)" font-size="10.5" text-anchor="start" font-weight="normal" fill="#000">SB27</text>
<rect x="956.5" y="443.2" width="14.4" height="8.8" fill="#555" />
<rect x="960.82" y="444.7" width="5.76" height="5.8" fill="#fff" />
<rect x="962.9" y="446.8" width="1.6" height="1.6" fill="#000" />
<text transform="translate(976.8,452)" font-size="10.5" text-anchor="start" font-weight="normal" fill="#000">C31</text>
<rect x="956.5" y="454.4" width="14.4" height="8.6" fill="#555" />
<rect x="960.82" y="455.9" width="5.76" height="5.6" fill="#fff" />
<rect x="962.9" y="457.9" width="1.6" height="1.6" fill="#000" />
<text transform="translate(976.8,463)" font-size="10.5" text-anchor="start" font-weight="normal" fill="#000">C32</text>
<path d="M935.2,437.3 L941.6,437.3 L941.6,443.66 L938.4,446.52 L935.2,443.66 Z" fill="#5a5a5a" stroke="none" stroke-width="1" />
<path d="M935.2,445.45 L938.4,447.6 L941.6,445.45 L941.6,453.6 L935.2,453.6 Z" fill="#5a5a5a" stroke="none" stroke-width="1" />
<rect x="934.4" y="436.5" width="8" height="1.3" fill="#111" />
<rect x="934.4" y="453.1" width="8" height="1.3" fill="#111" />
<text transform="translate(951.5,456) rotate(-90)" font-size="10.5" text-anchor="start" font-weight="normal" fill="#000">SB28</text>
<rect x="924.5" y="438.4" width="7.5" height="14.4" fill="#555" />
<rect x="926" y="442.72" width="4.5" height="5.76" fill="#fff" />
<rect x="927.45" y="444.8" width="1.6" height="1.6" fill="#000" />
<path d="M924.8,457.8 L931.6,457.8 L931.6,463.8 L928.2,466.52 L924.8,463.8 Z" fill="#5a5a5a" stroke="none" stroke-width="1" />
<path d="M924.8,465.5 L928.2,467.54 L931.6,465.5 L931.6,473.2 L924.8,473.2 Z" fill="#5a5a5a" stroke="none" stroke-width="1" />
<rect x="924" y="457" width="8.4" height="1.3" fill="#111" />
<rect x="924" y="472.7" width="8.4" height="1.3" fill="#111" />
<rect x="934.4" y="456" width="8.6" height="18.4" fill="#333" />
<rect x="935.6" y="461" width="6.2" height="8" fill="#fff" />
<rect x="937.9" y="464.2" width="1.6" height="1.6" fill="#000" />
<text transform="translate(952,473.5) rotate(-90)" font-size="10.5" text-anchor="start" font-weight="normal" fill="#000">L1</text>
<text transform="translate(921,479) rotate(-90)" font-size="10.5" text-anchor="start" font-weight="normal" fill="#000">SB31C33</text>
<path d="M819.2,434.8 L826.2,434.8 L826.2,441.2 L822.7,444.08 L819.2,441.2 Z" fill="#5a5a5a" stroke="none" stroke-width="1" />
<path d="M819.2,443 L822.7,445.16 L826.2,443 L826.2,451.2 L819.2,451.2 Z" fill="#5a5a5a" stroke="none" stroke-width="1" />
<rect x="818.4" y="434" width="8.6" height="1.3" fill="#111" />
<rect x="818.4" y="450.7" width="8.6" height="1.3" fill="#111" />
<text transform="translate(827,430) rotate(-90)" font-size="10.5" text-anchor="start" font-weight="normal" fill="#000">SB29</text>
<path d="M830.4,434.8 L837.2,434.8 L837.2,441.2 L833.8,444.08 L830.4,441.2 Z" fill="#5a5a5a" stroke="none" stroke-width="1" />
<path d="M830.4,443 L833.8,445.16 L837.2,443 L837.2,451.2 L830.4,451.2 Z" fill="#5a5a5a" stroke="none" stroke-width="1" />
<rect x="829.6" y="434" width="8.4" height="1.3" fill="#111" />
<rect x="829.6" y="450.7" width="8.4" height="1.3" fill="#111" />
<text transform="translate(838,430) rotate(-90)" font-size="10.5" text-anchor="start" font-weight="normal" fill="#000">SB30</text>
</svg></body></html>
